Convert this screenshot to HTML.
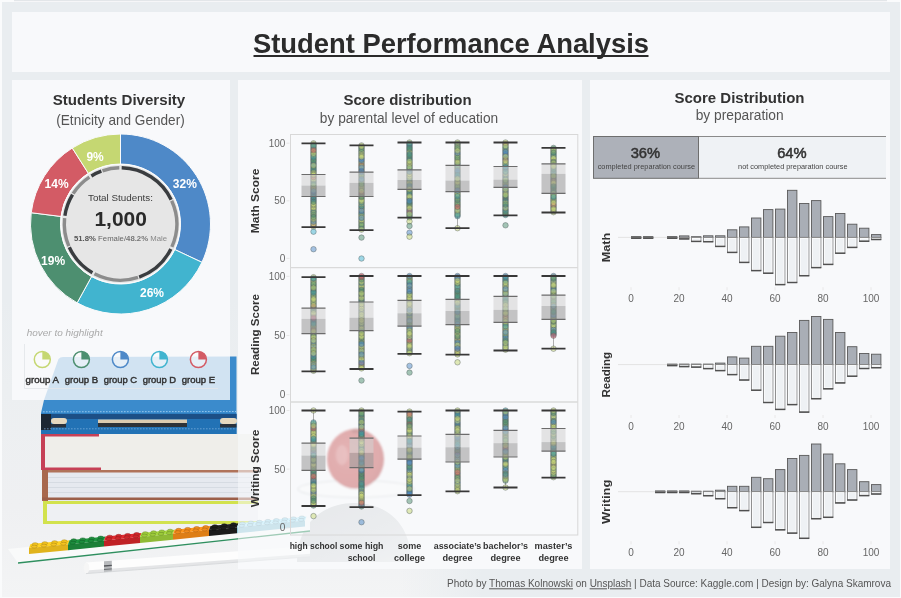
<!DOCTYPE html><html><head><meta charset="utf-8"><title>Student Performance Analysis</title><style>html,body{margin:0;padding:0;background:#fafbfc;}body{width:901px;height:598px;overflow:hidden;}</style></head><body><svg width="901" height="598" viewBox="0 0 901 598" style="display:block;will-change:transform" font-family='"Liberation Sans", Arial, sans-serif'><defs><filter id="soft" x="-5%" y="-5%" width="110%" height="110%"><feGaussianBlur stdDeviation="0.5"/></filter><filter id="soft2" x="-20%" y="-20%" width="140%" height="140%"><feGaussianBlur stdDeviation="0.9"/></filter><linearGradient id="photobg" x1="0" y1="0" x2="0" y2="1"><stop offset="0" stop-color="#e9edf0"/><stop offset="0.3" stop-color="#eceff1"/><stop offset="0.7" stop-color="#eff0f2"/><stop offset="1" stop-color="#f3f4f5"/></linearGradient><linearGradient id="photofade" x1="0" y1="0" x2="1" y2="0"><stop offset="0" stop-color="#e9edf0" stop-opacity="0"/><stop offset="1" stop-color="#e9edf0" stop-opacity="1"/></linearGradient><radialGradient id="apple" cx="0.38" cy="0.42" r="0.75"><stop offset="0" stop-color="#cc5a5a"/><stop offset="0.7" stop-color="#c04848"/><stop offset="1" stop-color="#a83a3c"/></radialGradient><linearGradient id="dome" x1="0" y1="0" x2="1" y2="1"><stop offset="0" stop-color="#d0d2d5"/><stop offset="0.6" stop-color="#dadcdf"/><stop offset="1" stop-color="#e8e9eb"/></linearGradient></defs><rect x="0" y="0" width="901" height="598" fill="#fafbfc"/><rect x="2" y="2" width="898" height="595" fill="#e9edf0"/><rect x="14" y="0" width="873" height="1.2" fill="#e3e6e9"/><g filter="url(#soft)"><rect x="2" y="300" width="480" height="297" fill="url(#photobg)"/><rect x="400" y="300" width="82" height="297" fill="url(#photofade)"/><rect x="12" y="80" width="218" height="320" fill="#f8f9fb"/><rect x="238" y="80" width="344" height="489" fill="#f8f9fb"/><g filter="url(#soft2)"><ellipse cx="356" cy="489" rx="58" ry="8.5" fill="#fbfbfb" stroke="#cfd1d4" stroke-width="1.2"/><ellipse cx="355.5" cy="459" rx="28.5" ry="30" fill="url(#apple)"/><ellipse cx="342" cy="455" rx="6" ry="10" fill="#dc8a8a" opacity="0.6"/><ellipse cx="356" cy="431" rx="5" ry="2.5" fill="#8a2a2a" opacity="0.6"/></g><path d="M297,562 C297,522 325,503 354,503 C385,503 411,522 411,562 Z" fill="url(#dome)"/><path d="M63,357 Q60,357.2 58.5,359 L44,400 L41,413 L41,434 L236.5,434 L236.5,356.5 Z" fill="#3a8bcc"/><path d="M43,411.8 L236,411.5" stroke="#a8d2f2" stroke-width="0.8" stroke-dasharray="1.6,1.4"/><rect x="41" y="413.5" width="195.5" height="20.5" fill="#2472b5"/><rect x="41" y="414" width="195.5" height="5" fill="#1b4f86"/><rect x="41" y="414" width="10" height="16" fill="#1e2733"/><rect x="51" y="418" width="16" height="6" rx="3" fill="#e6d8bf"/><rect x="51" y="424" width="15" height="3.5" fill="#2a323d"/><rect x="98" y="419.5" width="89" height="3.5" fill="#dccbb0"/><rect x="98" y="423" width="89" height="4" fill="#2e3138"/><rect x="220" y="418" width="17" height="6" rx="3" fill="#e6d8bf"/><rect x="220" y="424" width="16.5" height="3.5" fill="#2a323d"/><path d="M44,428.8 L236,428.8" stroke="#7fb2e0" stroke-width="0.7" stroke-dasharray="1.6,1.4"/><rect x="41" y="434" width="217" height="36" fill="#efeeea"/><rect x="41" y="434" width="58" height="2.5" fill="#c64056"/><rect x="41" y="434" width="4" height="36" fill="#c64056"/><rect x="41" y="467.5" width="60" height="2.5" fill="#c64056"/><rect x="42" y="470" width="216" height="31" fill="#e6e9ef"/><rect x="42" y="470" width="216" height="2.5" fill="#b0735a"/><rect x="42" y="470" width="6" height="31" fill="#a8674d"/><rect x="42" y="497.5" width="216" height="2.5" fill="#9c5f48"/><rect x="48" y="508" width="210" height="0.7" fill="#dfe2e6"/><rect x="48" y="513" width="210" height="0.7" fill="#dfe2e6"/><rect x="48" y="517" width="210" height="0.7" fill="#dfe2e6"/><rect x="48" y="477" width="210" height="0.8" fill="#d3d7df"/><rect x="48" y="482" width="210" height="0.8" fill="#d3d7df"/><rect x="48" y="487" width="210" height="0.8" fill="#d3d7df"/><rect x="48" y="492" width="210" height="0.8" fill="#d3d7df"/><rect x="43" y="501" width="215" height="23" fill="#eef0f3"/><rect x="43" y="501" width="215" height="3" fill="#d2e24e"/><rect x="43" y="501" width="4" height="23" fill="#d2e24e"/><rect x="43" y="521" width="215" height="3" fill="#d2e24e"/><path d="M8,549 L310,518 L310,531 L18,563 Z" fill="#f9fafa"/><path d="M18,563 L310,531" stroke="#2f8f5f" stroke-width="1.3"/><path d="M30.5,544.1 L69.5,540.2 L68,544.2 L29,548.1 Z" fill="#ffd222"/><path d="M29,548.1 L68,544.2 L68,550.2 L29,554.1 Z" fill="#e0b31d"/><ellipse cx="35.1" cy="544.2" rx="2.9" ry="1.5" fill="#f4c320" stroke="#aa8816" stroke-width="0.5"/><ellipse cx="44.8" cy="543.2" rx="2.9" ry="1.5" fill="#f4c320" stroke="#aa8816" stroke-width="0.5"/><ellipse cx="54.6" cy="542.2" rx="2.9" ry="1.5" fill="#f4c320" stroke="#aa8816" stroke-width="0.5"/><ellipse cx="64.3" cy="541.3" rx="2.9" ry="1.5" fill="#f4c320" stroke="#aa8816" stroke-width="0.5"/><ellipse cx="34.2" cy="546.6" rx="2.9" ry="1.5" fill="#f4c320" stroke="#aa8816" stroke-width="0.5"/><ellipse cx="43.9" cy="545.6" rx="2.9" ry="1.5" fill="#f4c320" stroke="#aa8816" stroke-width="0.5"/><ellipse cx="53.7" cy="544.6" rx="2.9" ry="1.5" fill="#f4c320" stroke="#aa8816" stroke-width="0.5"/><ellipse cx="63.4" cy="543.7" rx="2.9" ry="1.5" fill="#f4c320" stroke="#aa8816" stroke-width="0.5"/><path d="M69.5,540.2 L105.5,536.6 L104,540.6 L68,544.2 Z" fill="#1f9740"/><path d="M68,544.2 L104,540.6 L104,546.6 L68,550.2 Z" fill="#1a8037"/><ellipse cx="73.7" cy="540.3" rx="2.9" ry="1.5" fill="#1d8c3c" stroke="#14622a" stroke-width="0.5"/><ellipse cx="82.7" cy="539.4" rx="2.9" ry="1.5" fill="#1d8c3c" stroke="#14622a" stroke-width="0.5"/><ellipse cx="91.7" cy="538.5" rx="2.9" ry="1.5" fill="#1d8c3c" stroke="#14622a" stroke-width="0.5"/><ellipse cx="100.7" cy="537.6" rx="2.9" ry="1.5" fill="#1d8c3c" stroke="#14622a" stroke-width="0.5"/><ellipse cx="72.8" cy="542.7" rx="2.9" ry="1.5" fill="#1d8c3c" stroke="#14622a" stroke-width="0.5"/><ellipse cx="81.8" cy="541.8" rx="2.9" ry="1.5" fill="#1d8c3c" stroke="#14622a" stroke-width="0.5"/><ellipse cx="90.8" cy="540.9" rx="2.9" ry="1.5" fill="#1d8c3c" stroke="#14622a" stroke-width="0.5"/><ellipse cx="99.8" cy="540.0" rx="2.9" ry="1.5" fill="#1d8c3c" stroke="#14622a" stroke-width="0.5"/><path d="M105.5,536.6 L141.5,533.0 L140,537.0 L104,540.6 Z" fill="#e12b2f"/><path d="M104,540.6 L140,537.0 L140,543.0 L104,546.6 Z" fill="#c02428"/><ellipse cx="109.7" cy="536.7" rx="2.9" ry="1.5" fill="#d1282c" stroke="#921c1e" stroke-width="0.5"/><ellipse cx="118.7" cy="535.8" rx="2.9" ry="1.5" fill="#d1282c" stroke="#921c1e" stroke-width="0.5"/><ellipse cx="127.7" cy="534.9" rx="2.9" ry="1.5" fill="#d1282c" stroke="#921c1e" stroke-width="0.5"/><ellipse cx="136.7" cy="534.0" rx="2.9" ry="1.5" fill="#d1282c" stroke="#921c1e" stroke-width="0.5"/><ellipse cx="108.8" cy="539.1" rx="2.9" ry="1.5" fill="#d1282c" stroke="#921c1e" stroke-width="0.5"/><ellipse cx="117.8" cy="538.2" rx="2.9" ry="1.5" fill="#d1282c" stroke="#921c1e" stroke-width="0.5"/><ellipse cx="126.8" cy="537.3" rx="2.9" ry="1.5" fill="#d1282c" stroke="#921c1e" stroke-width="0.5"/><ellipse cx="135.8" cy="536.4" rx="2.9" ry="1.5" fill="#d1282c" stroke="#921c1e" stroke-width="0.5"/><path d="M141.5,533.0 L174.5,529.7 L173,533.7 L140,537.0 Z" fill="#a8db3e"/><path d="M140,537.0 L173,533.7 L173,539.7 L140,543.0 Z" fill="#8fba35"/><ellipse cx="145.3" cy="533.2" rx="2.9" ry="1.5" fill="#9ccb3a" stroke="#6d8e28" stroke-width="0.5"/><ellipse cx="153.6" cy="532.3" rx="2.9" ry="1.5" fill="#9ccb3a" stroke="#6d8e28" stroke-width="0.5"/><ellipse cx="161.8" cy="531.5" rx="2.9" ry="1.5" fill="#9ccb3a" stroke="#6d8e28" stroke-width="0.5"/><ellipse cx="170.1" cy="530.7" rx="2.9" ry="1.5" fill="#9ccb3a" stroke="#6d8e28" stroke-width="0.5"/><ellipse cx="144.4" cy="535.6" rx="2.9" ry="1.5" fill="#9ccb3a" stroke="#6d8e28" stroke-width="0.5"/><ellipse cx="152.7" cy="534.7" rx="2.9" ry="1.5" fill="#9ccb3a" stroke="#6d8e28" stroke-width="0.5"/><ellipse cx="160.9" cy="533.9" rx="2.9" ry="1.5" fill="#9ccb3a" stroke="#6d8e28" stroke-width="0.5"/><ellipse cx="169.2" cy="533.1" rx="2.9" ry="1.5" fill="#9ccb3a" stroke="#6d8e28" stroke-width="0.5"/><path d="M174.5,529.7 L210.5,526.1 L209,530.1 L173,533.7 Z" fill="#ff951e"/><path d="M173,533.7 L209,530.1 L209,536.1 L173,539.7 Z" fill="#de7e19"/><ellipse cx="178.7" cy="529.8" rx="2.9" ry="1.5" fill="#f28a1c" stroke="#a96013" stroke-width="0.5"/><ellipse cx="187.7" cy="528.9" rx="2.9" ry="1.5" fill="#f28a1c" stroke="#a96013" stroke-width="0.5"/><ellipse cx="196.7" cy="528.0" rx="2.9" ry="1.5" fill="#f28a1c" stroke="#a96013" stroke-width="0.5"/><ellipse cx="205.7" cy="527.1" rx="2.9" ry="1.5" fill="#f28a1c" stroke="#a96013" stroke-width="0.5"/><ellipse cx="177.8" cy="532.2" rx="2.9" ry="1.5" fill="#f28a1c" stroke="#a96013" stroke-width="0.5"/><ellipse cx="186.8" cy="531.3" rx="2.9" ry="1.5" fill="#f28a1c" stroke="#a96013" stroke-width="0.5"/><ellipse cx="195.8" cy="530.4" rx="2.9" ry="1.5" fill="#f28a1c" stroke="#a96013" stroke-width="0.5"/><ellipse cx="204.8" cy="529.5" rx="2.9" ry="1.5" fill="#f28a1c" stroke="#a96013" stroke-width="0.5"/><path d="M210.5,526.1 L238.5,523.3 L237,527.3 L209,530.1 Z" fill="#202020"/><path d="M209,530.1 L237,527.3 L237,533.3 L209,536.1 Z" fill="#1b1b1b"/><ellipse cx="214.9" cy="526.2" rx="2.9" ry="1.5" fill="#1e1e1e" stroke="#151515" stroke-width="0.5"/><ellipse cx="224.2" cy="525.3" rx="2.9" ry="1.5" fill="#1e1e1e" stroke="#151515" stroke-width="0.5"/><ellipse cx="233.5" cy="524.3" rx="2.9" ry="1.5" fill="#1e1e1e" stroke="#151515" stroke-width="0.5"/><ellipse cx="214.0" cy="528.6" rx="2.9" ry="1.5" fill="#1e1e1e" stroke="#151515" stroke-width="0.5"/><ellipse cx="223.3" cy="527.7" rx="2.9" ry="1.5" fill="#1e1e1e" stroke="#151515" stroke-width="0.5"/><ellipse cx="232.6" cy="526.7" rx="2.9" ry="1.5" fill="#1e1e1e" stroke="#151515" stroke-width="0.5"/><path d="M238.5,523.3 L306.5,516.5 L305,520.5 L237,527.3 Z" fill="#b3edff"/><path d="M237,527.3 L305,520.5 L305,526.5 L237,533.3 Z" fill="#98cadb"/><ellipse cx="242.4" cy="523.5" rx="2.9" ry="1.5" fill="#a6dcef" stroke="#749aa7" stroke-width="0.5"/><ellipse cx="250.9" cy="522.6" rx="2.9" ry="1.5" fill="#a6dcef" stroke="#749aa7" stroke-width="0.5"/><ellipse cx="259.4" cy="521.8" rx="2.9" ry="1.5" fill="#a6dcef" stroke="#749aa7" stroke-width="0.5"/><ellipse cx="267.9" cy="520.9" rx="2.9" ry="1.5" fill="#a6dcef" stroke="#749aa7" stroke-width="0.5"/><ellipse cx="276.4" cy="520.1" rx="2.9" ry="1.5" fill="#a6dcef" stroke="#749aa7" stroke-width="0.5"/><ellipse cx="284.9" cy="519.2" rx="2.9" ry="1.5" fill="#a6dcef" stroke="#749aa7" stroke-width="0.5"/><ellipse cx="293.4" cy="518.4" rx="2.9" ry="1.5" fill="#a6dcef" stroke="#749aa7" stroke-width="0.5"/><ellipse cx="301.9" cy="517.5" rx="2.9" ry="1.5" fill="#a6dcef" stroke="#749aa7" stroke-width="0.5"/><ellipse cx="241.6" cy="525.8" rx="2.9" ry="1.5" fill="#a6dcef" stroke="#749aa7" stroke-width="0.5"/><ellipse cx="250.1" cy="525.0" rx="2.9" ry="1.5" fill="#a6dcef" stroke="#749aa7" stroke-width="0.5"/><ellipse cx="258.6" cy="524.1" rx="2.9" ry="1.5" fill="#a6dcef" stroke="#749aa7" stroke-width="0.5"/><ellipse cx="267.1" cy="523.3" rx="2.9" ry="1.5" fill="#a6dcef" stroke="#749aa7" stroke-width="0.5"/><ellipse cx="275.6" cy="522.4" rx="2.9" ry="1.5" fill="#a6dcef" stroke="#749aa7" stroke-width="0.5"/><ellipse cx="284.1" cy="521.6" rx="2.9" ry="1.5" fill="#a6dcef" stroke="#749aa7" stroke-width="0.5"/><ellipse cx="292.6" cy="520.7" rx="2.9" ry="1.5" fill="#a6dcef" stroke="#749aa7" stroke-width="0.5"/><ellipse cx="301.1" cy="519.9" rx="2.9" ry="1.5" fill="#a6dcef" stroke="#749aa7" stroke-width="0.5"/><path d="M86,562.6 L310,546 L310,556.5 L86,573.4 Z" fill="#fdfdfd"/><path d="M86,570.5 L310,553.8 L310,556.5 L86,573.4 Z" fill="#e4e5e7"/><ellipse cx="86.5" cy="568" rx="2.8" ry="5.4" fill="#f6f6f6"/><path d="M104,561.3 L111.8,560.7 L111.8,571.6 L104,572.2 Z" fill="#b8babd"/><path d="M104,566 L111.8,565.4" stroke="#55575b" stroke-width="1.4"/><path d="M104,569.5 L111.8,568.9" stroke="#6a6c70" stroke-width="1"/><path d="M86,573.6 L310,556.7" stroke="#d2d4d7" stroke-width="0.8"/></g><rect x="12" y="12" width="878" height="60" fill="#f8f9fb"/><rect x="12" y="80" width="218" height="320" fill="#f8f9fb" fill-opacity="0.8"/><rect x="238" y="80" width="344" height="489" fill="#f8f9fb" fill-opacity="0.56"/><rect x="590" y="80" width="300" height="489" fill="#f8f9fb"/><text x="451" y="53.3" font-size="28" font-weight="bold" fill="#2b2b2b" text-anchor="middle" textLength="396" lengthAdjust="spacingAndGlyphs">Student Performance Analysis</text><rect x="253.5" y="55" width="395" height="2" fill="#2b2b2b"/><text x="119" y="105" font-size="15.5" font-weight="bold" fill="#333" text-anchor="middle" textLength="132.5" lengthAdjust="spacingAndGlyphs">Students Diversity</text><text x="120.5" y="124.5" font-size="14.5" fill="#555" text-anchor="middle" textLength="128.5" lengthAdjust="spacingAndGlyphs">(Etnicity and Gender)</text><path d="M120.50,134.00 A90.0,90.0 0 0 1 201.93,262.32 L174.79,249.55 A60.0,60.0 0 0 0 120.50,164.00 Z" fill="#4e89c8" stroke="#fafbfc" stroke-width="1"/><path d="M201.93,262.32 A90.0,90.0 0 0 1 77.14,302.87 L91.59,276.58 A60.0,60.0 0 0 0 174.79,249.55 Z" fill="#41b4cf" stroke="#fafbfc" stroke-width="1"/><path d="M77.14,302.87 A90.0,90.0 0 0 1 31.21,212.72 L60.97,216.48 A60.0,60.0 0 0 0 91.59,276.58 Z" fill="#4d8f70" stroke="#fafbfc" stroke-width="1"/><path d="M31.21,212.72 A90.0,90.0 0 0 1 72.28,148.01 L88.35,173.34 A60.0,60.0 0 0 0 60.97,216.48 Z" fill="#d35b65" stroke="#fafbfc" stroke-width="1"/><path d="M72.28,148.01 A90.0,90.0 0 0 1 120.50,134.00 L120.50,164.00 A60.0,60.0 0 0 0 88.35,173.34 Z" fill="#c5d772" stroke="#fafbfc" stroke-width="1"/><circle cx="120.5" cy="224.0" r="59.5" fill="#e6e6e6" stroke="#fafbfc" stroke-width="1.2"/><path d="M121.68,167.81 A56.2,56.2 0 0 1 171.17,199.69" fill="none" stroke="#3a3d40" stroke-width="3.4"/><path d="M171.67,200.76 A56.2,56.2 0 0 1 171.84,246.86" fill="none" stroke="#8c8c8c" stroke-width="3.4"/><path d="M170.84,248.99 A56.2,56.2 0 0 1 139.12,277.03" fill="none" stroke="#3a3d40" stroke-width="3.4"/><path d="M138.01,277.40 A56.2,56.2 0 0 1 94.46,273.80" fill="none" stroke="#8c8c8c" stroke-width="3.4"/><path d="M92.40,272.67 A56.2,56.2 0 0 1 69.31,247.20" fill="none" stroke="#3a3d40" stroke-width="3.4"/><path d="M68.84,246.13 A56.2,56.2 0 0 1 64.61,218.13" fill="none" stroke="#8c8c8c" stroke-width="3.4"/><path d="M64.90,215.79 A56.2,56.2 0 0 1 72.55,194.68" fill="none" stroke="#3a3d40" stroke-width="3.4"/><path d="M73.18,193.68 A56.2,56.2 0 0 1 89.40,177.19" fill="none" stroke="#8c8c8c" stroke-width="3.4"/><path d="M91.39,175.93 A56.2,56.2 0 0 1 101.36,171.16" fill="none" stroke="#3a3d40" stroke-width="3.4"/><path d="M102.47,170.77 A56.2,56.2 0 0 1 119.32,167.81" fill="none" stroke="#8c8c8c" stroke-width="3.4"/><text x="184.8" y="187.6" font-size="12" font-weight="bold" fill="#fff" text-anchor="middle">32%</text><text x="152" y="296.7" font-size="12" font-weight="bold" fill="#fff" text-anchor="middle">26%</text><text x="53.1" y="265" font-size="12" font-weight="bold" fill="#fff" text-anchor="middle">19%</text><text x="56.6" y="187.6" font-size="12" font-weight="bold" fill="#fff" text-anchor="middle">14%</text><text x="95.1" y="161.3" font-size="12" font-weight="bold" fill="#fff" text-anchor="middle">9%</text><text x="120.5" y="200.6" font-size="9.6" fill="#3c3c3c" text-anchor="middle" textLength="65" lengthAdjust="spacingAndGlyphs">Total Students:</text><text x="120.7" y="226.1" font-size="19.8" font-weight="bold" fill="#2a2a2a" text-anchor="middle" textLength="52.5" lengthAdjust="spacingAndGlyphs">1,000</text><text x="120.5" y="241.1" font-size="8" fill="#666" text-anchor="middle" textLength="93" lengthAdjust="spacingAndGlyphs"><tspan font-weight="bold" fill="#555">51.8%</tspan> Female/<tspan font-weight="bold" fill="#777">48.2%</tspan><tspan fill="#888"> Male</tspan></text><text x="26.7" y="335.9" font-size="9.6" fill="#aaa" textLength="76" lengthAdjust="spacingAndGlyphs" font-style="italic">hover to highlight</text><path d="M24.5,344V388.5H218" fill="none" stroke="#e3e6ea" stroke-width="0.9"/><circle cx="42.3" cy="359.5" r="8" fill="#fbfbfc" fill-opacity="0.5" stroke="#c5d772" stroke-width="1.5"/><path d="M42.3,359.5 L42.3,351.5 A8,8 0 0 1 50.3,359.5 Z" fill="#c5d772"/><text x="42.3" y="383" font-size="9.8" fill="#333" text-anchor="middle" textLength="33.5" lengthAdjust="spacingAndGlyphs" stroke="#333" stroke-width="0.45">group A</text><circle cx="81.4" cy="359.5" r="8" fill="#fbfbfc" fill-opacity="0.5" stroke="#4d8f70" stroke-width="1.5"/><path d="M81.4,359.5 L81.4,351.5 A8,8 0 0 1 89.4,359.5 Z" fill="#4d8f70"/><text x="81.4" y="383" font-size="9.8" fill="#333" text-anchor="middle" textLength="33.5" lengthAdjust="spacingAndGlyphs" stroke="#333" stroke-width="0.45">group B</text><circle cx="120.4" cy="359.5" r="8" fill="#fbfbfc" fill-opacity="0.5" stroke="#4e89c8" stroke-width="1.5"/><path d="M120.4,359.5 L120.4,351.5 A8,8 0 0 1 128.4,359.5 Z" fill="#4e89c8"/><text x="120.4" y="383" font-size="9.8" fill="#333" text-anchor="middle" textLength="33.5" lengthAdjust="spacingAndGlyphs" stroke="#333" stroke-width="0.45">group C</text><circle cx="159.4" cy="359.5" r="8" fill="#fbfbfc" fill-opacity="0.5" stroke="#41b4cf" stroke-width="1.5"/><path d="M159.4,359.5 L159.4,351.5 A8,8 0 0 1 167.4,359.5 Z" fill="#41b4cf"/><text x="159.4" y="383" font-size="9.8" fill="#333" text-anchor="middle" textLength="33.5" lengthAdjust="spacingAndGlyphs" stroke="#333" stroke-width="0.45">group D</text><circle cx="198.4" cy="359.5" r="8" fill="#fbfbfc" fill-opacity="0.5" stroke="#d35b65" stroke-width="1.5"/><path d="M198.4,359.5 L198.4,351.5 A8,8 0 0 1 206.4,359.5 Z" fill="#d35b65"/><text x="198.4" y="383" font-size="9.8" fill="#333" text-anchor="middle" textLength="33.5" lengthAdjust="spacingAndGlyphs" stroke="#333" stroke-width="0.45">group E</text><text x="407.5" y="104.6" font-size="15.4" font-weight="bold" fill="#333" text-anchor="middle" textLength="128.2" lengthAdjust="spacingAndGlyphs">Score distribution</text><text x="409" y="122.8" font-size="13.8" fill="#555" text-anchor="middle" textLength="178.3" lengthAdjust="spacingAndGlyphs">by parental level of education</text><rect x="290.5" y="134.5" width="287.29999999999995" height="400.5" fill="none" stroke="#d8d8d8" stroke-width="1"/><line x1="290.5" y1="267.59999999999997" x2="577.8" y2="267.59999999999997" stroke="#dadada" stroke-width="1.4"/><line x1="290.5" y1="402.0" x2="577.8" y2="402.0" stroke="#dadada" stroke-width="1.4"/><text x="285.4" y="146.7" font-size="10" fill="#666" text-anchor="end" textLength="16.6" lengthAdjust="spacingAndGlyphs">100</text><line x1="286.5" y1="143.2" x2="289.5" y2="143.2" stroke="#e2e2e2" stroke-width="0.8"/><text x="285.4" y="204.29999999999998" font-size="10" fill="#666" text-anchor="end" textLength="11.1" lengthAdjust="spacingAndGlyphs">50</text><line x1="286.5" y1="200.79999999999998" x2="289.5" y2="200.79999999999998" stroke="#e2e2e2" stroke-width="0.8"/><text x="285.4" y="261.9" font-size="10" fill="#666" text-anchor="end" textLength="5.6" lengthAdjust="spacingAndGlyphs">0</text><line x1="286.5" y1="258.4" x2="289.5" y2="258.4" stroke="#e2e2e2" stroke-width="0.8"/><text transform="translate(259.2,200.9) rotate(-90)" font-size="10.6" font-weight="bold" fill="#333" text-anchor="middle" textLength="64.5" lengthAdjust="spacingAndGlyphs">Math Score</text><text x="285.4" y="279.9" font-size="10" fill="#666" text-anchor="end" textLength="16.6" lengthAdjust="spacingAndGlyphs">100</text><line x1="286.5" y1="276.4" x2="289.5" y2="276.4" stroke="#e2e2e2" stroke-width="0.8"/><text x="285.4" y="339.0" font-size="10" fill="#666" text-anchor="end" textLength="11.1" lengthAdjust="spacingAndGlyphs">50</text><line x1="286.5" y1="335.5" x2="289.5" y2="335.5" stroke="#e2e2e2" stroke-width="0.8"/><text x="285.4" y="398.1" font-size="10" fill="#666" text-anchor="end" textLength="5.6" lengthAdjust="spacingAndGlyphs">0</text><line x1="286.5" y1="394.6" x2="289.5" y2="394.6" stroke="#e2e2e2" stroke-width="0.8"/><text transform="translate(259.2,334.6) rotate(-90)" font-size="10.6" font-weight="bold" fill="#333" text-anchor="middle" textLength="81" lengthAdjust="spacingAndGlyphs">Reading Score</text><text x="285.4" y="414.0" font-size="10" fill="#666" text-anchor="end" textLength="16.6" lengthAdjust="spacingAndGlyphs">100</text><line x1="286.5" y1="410.5" x2="289.5" y2="410.5" stroke="#e2e2e2" stroke-width="0.8"/><text x="285.4" y="472.6" font-size="10" fill="#666" text-anchor="end" textLength="11.1" lengthAdjust="spacingAndGlyphs">50</text><line x1="286.5" y1="469.1" x2="289.5" y2="469.1" stroke="#e2e2e2" stroke-width="0.8"/><text x="285.4" y="531.2" font-size="10" fill="#666" text-anchor="end" textLength="5.6" lengthAdjust="spacingAndGlyphs">0</text><line x1="286.5" y1="527.7" x2="289.5" y2="527.7" stroke="#e2e2e2" stroke-width="0.8"/><text transform="translate(259.2,468.4) rotate(-90)" font-size="10.6" font-weight="bold" fill="#333" text-anchor="middle" textLength="77.5" lengthAdjust="spacingAndGlyphs">Writing Score</text><g stroke="#566061" stroke-opacity="0.55" stroke-width="0.8" fill-opacity="0.5"><line x1="313.5" y1="143.3" x2="313.5" y2="227.2" stroke="#999" stroke-opacity="1"/><circle cx="313.5" cy="206.5" r="2.75" fill="#cbd978"/><circle cx="313.5" cy="192.4" r="2.75" fill="#4e89c8"/><circle cx="313.5" cy="180.7" r="2.75" fill="#cbd978"/><circle cx="313.5" cy="220.5" r="2.75" fill="#cbd978"/><circle cx="313.5" cy="193.6" r="2.75" fill="#3a9aa6"/><circle cx="313.5" cy="170.2" r="2.75" fill="#4d8f70"/><circle cx="313.5" cy="143.3" r="2.75" fill="#cbd978"/><circle cx="313.5" cy="162.0" r="2.75" fill="#cbd978"/><circle cx="313.5" cy="167.9" r="2.75" fill="#cbd978"/><circle cx="313.5" cy="171.4" r="2.75" fill="#4d8f70"/><circle cx="313.5" cy="211.2" r="2.75" fill="#4d8f70"/><circle cx="313.5" cy="208.8" r="2.75" fill="#cbd978"/><circle cx="313.5" cy="198.3" r="2.75" fill="#4e89c8"/><circle cx="313.5" cy="183.1" r="2.75" fill="#cbd978"/><circle cx="313.5" cy="181.9" r="2.75" fill="#3a9aa6"/><circle cx="313.5" cy="155.0" r="2.75" fill="#3a9aa6"/><circle cx="313.5" cy="158.5" r="2.75" fill="#cbd978"/><circle cx="313.5" cy="210.0" r="2.75" fill="#cbd978"/><circle cx="313.5" cy="187.8" r="2.75" fill="#d35b65"/><circle cx="313.5" cy="144.5" r="2.75" fill="#cbd978"/><circle cx="313.5" cy="176.1" r="2.75" fill="#4e89c8"/><circle cx="313.5" cy="188.9" r="2.75" fill="#4d8f70"/><circle cx="313.5" cy="169.0" r="2.75" fill="#3a9aa6"/><circle cx="313.5" cy="163.2" r="2.75" fill="#4d8f70"/><circle cx="313.5" cy="178.4" r="2.75" fill="#cbd978"/><circle cx="313.5" cy="179.6" r="2.75" fill="#cbd978"/><circle cx="313.5" cy="222.9" r="2.75" fill="#cbd978"/><circle cx="313.5" cy="166.7" r="2.75" fill="#4d8f70"/><circle cx="313.5" cy="177.2" r="2.75" fill="#d35b65"/><circle cx="313.5" cy="194.8" r="2.75" fill="#4e89c8"/><circle cx="313.5" cy="226.4" r="2.75" fill="#cbd978"/><circle cx="313.5" cy="156.2" r="2.75" fill="#cbd978"/><circle cx="313.5" cy="225.2" r="2.75" fill="#d35b65"/><circle cx="313.5" cy="224.0" r="2.75" fill="#cbd978"/><circle cx="313.5" cy="221.7" r="2.75" fill="#4e89c8"/><circle cx="313.5" cy="212.3" r="2.75" fill="#3a9aa6"/><circle cx="313.5" cy="164.4" r="2.75" fill="#4e89c8"/><circle cx="313.5" cy="152.7" r="2.75" fill="#4d8f70"/><circle cx="313.5" cy="207.6" r="2.75" fill="#cbd978"/><circle cx="313.5" cy="215.8" r="2.75" fill="#d35b65"/><circle cx="313.5" cy="200.6" r="2.75" fill="#4d8f70"/><circle cx="313.5" cy="195.9" r="2.75" fill="#4e89c8"/><circle cx="313.5" cy="172.5" r="2.75" fill="#cbd978"/><circle cx="313.5" cy="219.3" r="2.75" fill="#cbd978"/><circle cx="313.5" cy="203.0" r="2.75" fill="#4d8f70"/><circle cx="313.5" cy="205.3" r="2.75" fill="#cbd978"/><circle cx="313.5" cy="186.6" r="2.75" fill="#cbd978"/><circle cx="313.5" cy="199.5" r="2.75" fill="#4e89c8"/><circle cx="313.5" cy="190.1" r="2.75" fill="#cbd978"/><circle cx="313.5" cy="159.7" r="2.75" fill="#4d8f70"/><circle cx="313.5" cy="218.2" r="2.75" fill="#cbd978"/><circle cx="313.5" cy="185.4" r="2.75" fill="#cbd978"/><circle cx="313.5" cy="204.1" r="2.75" fill="#cbd978"/><circle cx="313.5" cy="146.8" r="2.75" fill="#cbd978"/><circle cx="313.5" cy="213.5" r="2.75" fill="#cbd978"/><circle cx="313.5" cy="184.2" r="2.75" fill="#4d8f70"/><circle cx="313.5" cy="214.7" r="2.75" fill="#4d8f70"/><circle cx="313.5" cy="160.8" r="2.75" fill="#4d8f70"/><circle cx="313.5" cy="148.0" r="2.75" fill="#cbd978"/><circle cx="313.5" cy="173.7" r="2.75" fill="#cbd978"/><circle cx="313.5" cy="217.0" r="2.75" fill="#4d8f70"/><circle cx="313.5" cy="149.1" r="2.75" fill="#4d8f70"/><circle cx="313.5" cy="145.6" r="2.75" fill="#3a9aa6"/><circle cx="313.5" cy="174.9" r="2.75" fill="#cbd978"/><circle cx="313.5" cy="151.5" r="2.75" fill="#cbd978"/><circle cx="313.5" cy="197.1" r="2.75" fill="#4d8f70"/><circle cx="313.5" cy="157.3" r="2.75" fill="#3a9aa6"/><circle cx="313.5" cy="153.8" r="2.75" fill="#cbd978"/><circle cx="313.5" cy="150.3" r="2.75" fill="#d35b65"/><circle cx="313.5" cy="201.8" r="2.75" fill="#4d8f70"/><circle cx="313.5" cy="165.5" r="2.75" fill="#cbd978"/><circle cx="313.5" cy="191.3" r="2.75" fill="#4e89c8"/><circle cx="313.5" cy="231.7" r="2.75" fill="#41b4cf"/><circle cx="313.5" cy="249.2" r="2.75" fill="#4e89c8"/><line x1="361.5" y1="145.4" x2="361.5" y2="230.1" stroke="#999" stroke-opacity="1"/><circle cx="361.5" cy="164.1" r="2.75" fill="#cbd978"/><circle cx="361.5" cy="161.8" r="2.75" fill="#cbd978"/><circle cx="361.5" cy="207.4" r="2.75" fill="#cbd978"/><circle cx="361.5" cy="162.9" r="2.75" fill="#cbd978"/><circle cx="361.5" cy="205.1" r="2.75" fill="#cbd978"/><circle cx="361.5" cy="208.6" r="2.75" fill="#4d8f70"/><circle cx="361.5" cy="212.1" r="2.75" fill="#d35b65"/><circle cx="361.5" cy="214.4" r="2.75" fill="#cbd978"/><circle cx="361.5" cy="153.6" r="2.75" fill="#3a9aa6"/><circle cx="361.5" cy="177.0" r="2.75" fill="#cbd978"/><circle cx="361.5" cy="215.6" r="2.75" fill="#cbd978"/><circle cx="361.5" cy="188.7" r="2.75" fill="#3a9aa6"/><circle cx="361.5" cy="227.3" r="2.75" fill="#cbd978"/><circle cx="361.5" cy="181.7" r="2.75" fill="#cbd978"/><circle cx="361.5" cy="170.0" r="2.75" fill="#d35b65"/><circle cx="361.5" cy="213.3" r="2.75" fill="#3a9aa6"/><circle cx="361.5" cy="189.9" r="2.75" fill="#cbd978"/><circle cx="361.5" cy="147.7" r="2.75" fill="#3a9aa6"/><circle cx="361.5" cy="173.5" r="2.75" fill="#cbd978"/><circle cx="361.5" cy="158.3" r="2.75" fill="#4e89c8"/><circle cx="361.5" cy="209.7" r="2.75" fill="#cbd978"/><circle cx="361.5" cy="165.3" r="2.75" fill="#d35b65"/><circle cx="361.5" cy="219.1" r="2.75" fill="#cbd978"/><circle cx="361.5" cy="221.4" r="2.75" fill="#3a9aa6"/><circle cx="361.5" cy="216.8" r="2.75" fill="#cbd978"/><circle cx="361.5" cy="198.0" r="2.75" fill="#cbd978"/><circle cx="361.5" cy="222.6" r="2.75" fill="#cbd978"/><circle cx="361.5" cy="226.1" r="2.75" fill="#cbd978"/><circle cx="361.5" cy="228.5" r="2.75" fill="#3a9aa6"/><circle cx="361.5" cy="206.2" r="2.75" fill="#3a9aa6"/><circle cx="361.5" cy="151.2" r="2.75" fill="#3a9aa6"/><circle cx="361.5" cy="178.2" r="2.75" fill="#cbd978"/><circle cx="361.5" cy="160.6" r="2.75" fill="#4e89c8"/><circle cx="361.5" cy="150.1" r="2.75" fill="#cbd978"/><circle cx="361.5" cy="159.4" r="2.75" fill="#4e89c8"/><circle cx="361.5" cy="199.2" r="2.75" fill="#cbd978"/><circle cx="361.5" cy="203.9" r="2.75" fill="#cbd978"/><circle cx="361.5" cy="180.5" r="2.75" fill="#4d8f70"/><circle cx="361.5" cy="152.4" r="2.75" fill="#cbd978"/><circle cx="361.5" cy="192.2" r="2.75" fill="#cbd978"/><circle cx="361.5" cy="202.7" r="2.75" fill="#3a9aa6"/><circle cx="361.5" cy="194.5" r="2.75" fill="#4d8f70"/><circle cx="361.5" cy="174.6" r="2.75" fill="#cbd978"/><circle cx="361.5" cy="186.3" r="2.75" fill="#cbd978"/><circle cx="361.5" cy="201.6" r="2.75" fill="#cbd978"/><circle cx="361.5" cy="223.8" r="2.75" fill="#cbd978"/><circle cx="361.5" cy="148.9" r="2.75" fill="#4d8f70"/><circle cx="361.5" cy="200.4" r="2.75" fill="#cbd978"/><circle cx="361.5" cy="195.7" r="2.75" fill="#cbd978"/><circle cx="361.5" cy="193.4" r="2.75" fill="#d35b65"/><circle cx="361.5" cy="210.9" r="2.75" fill="#4e89c8"/><circle cx="361.5" cy="182.8" r="2.75" fill="#cbd978"/><circle cx="361.5" cy="196.9" r="2.75" fill="#4d8f70"/><circle cx="361.5" cy="154.8" r="2.75" fill="#cbd978"/><circle cx="361.5" cy="168.8" r="2.75" fill="#cbd978"/><circle cx="361.5" cy="187.5" r="2.75" fill="#cbd978"/><circle cx="361.5" cy="191.0" r="2.75" fill="#cbd978"/><circle cx="361.5" cy="220.3" r="2.75" fill="#cbd978"/><circle cx="361.5" cy="185.2" r="2.75" fill="#cbd978"/><circle cx="361.5" cy="175.8" r="2.75" fill="#4d8f70"/><circle cx="361.5" cy="155.9" r="2.75" fill="#cbd978"/><circle cx="361.5" cy="145.4" r="2.75" fill="#cbd978"/><circle cx="361.5" cy="166.5" r="2.75" fill="#cbd978"/><circle cx="361.5" cy="184.0" r="2.75" fill="#4d8f70"/><circle cx="361.5" cy="172.3" r="2.75" fill="#4e89c8"/><circle cx="361.5" cy="217.9" r="2.75" fill="#4e89c8"/><circle cx="361.5" cy="146.6" r="2.75" fill="#cbd978"/><circle cx="361.5" cy="225.0" r="2.75" fill="#4d8f70"/><circle cx="361.5" cy="179.3" r="2.75" fill="#4e89c8"/><circle cx="361.5" cy="229.6" r="2.75" fill="#cbd978"/><circle cx="361.5" cy="171.1" r="2.75" fill="#4e89c8"/><circle cx="361.5" cy="157.1" r="2.75" fill="#cbd978"/><circle cx="361.5" cy="167.6" r="2.75" fill="#4e89c8"/><circle cx="361.5" cy="237.6" r="2.75" fill="#4d8f70"/><circle cx="361.5" cy="258.5" r="2.75" fill="#41b4cf"/><line x1="409.5" y1="142.5" x2="409.5" y2="217.6" stroke="#999" stroke-opacity="1"/><circle cx="409.5" cy="146.0" r="2.75" fill="#4d8f70"/><circle cx="409.5" cy="156.5" r="2.75" fill="#cbd978"/><circle cx="409.5" cy="158.9" r="2.75" fill="#4e89c8"/><circle cx="409.5" cy="162.4" r="2.75" fill="#cbd978"/><circle cx="409.5" cy="181.1" r="2.75" fill="#cbd978"/><circle cx="409.5" cy="175.3" r="2.75" fill="#cbd978"/><circle cx="409.5" cy="209.2" r="2.75" fill="#cbd978"/><circle cx="409.5" cy="184.6" r="2.75" fill="#4d8f70"/><circle cx="409.5" cy="165.9" r="2.75" fill="#4e89c8"/><circle cx="409.5" cy="164.7" r="2.75" fill="#cbd978"/><circle cx="409.5" cy="199.8" r="2.75" fill="#3a9aa6"/><circle cx="409.5" cy="216.2" r="2.75" fill="#cbd978"/><circle cx="409.5" cy="170.6" r="2.75" fill="#cbd978"/><circle cx="409.5" cy="144.8" r="2.75" fill="#4e89c8"/><circle cx="409.5" cy="160.0" r="2.75" fill="#3a9aa6"/><circle cx="409.5" cy="212.7" r="2.75" fill="#3a9aa6"/><circle cx="409.5" cy="190.5" r="2.75" fill="#3a9aa6"/><circle cx="409.5" cy="198.7" r="2.75" fill="#4d8f70"/><circle cx="409.5" cy="163.6" r="2.75" fill="#cbd978"/><circle cx="409.5" cy="150.7" r="2.75" fill="#3a9aa6"/><circle cx="409.5" cy="191.6" r="2.75" fill="#cbd978"/><circle cx="409.5" cy="183.4" r="2.75" fill="#cbd978"/><circle cx="409.5" cy="206.8" r="2.75" fill="#cbd978"/><circle cx="409.5" cy="182.3" r="2.75" fill="#cbd978"/><circle cx="409.5" cy="179.9" r="2.75" fill="#cbd978"/><circle cx="409.5" cy="172.9" r="2.75" fill="#cbd978"/><circle cx="409.5" cy="178.8" r="2.75" fill="#3a9aa6"/><circle cx="409.5" cy="157.7" r="2.75" fill="#4d8f70"/><circle cx="409.5" cy="147.2" r="2.75" fill="#3a9aa6"/><circle cx="409.5" cy="169.4" r="2.75" fill="#cbd978"/><circle cx="409.5" cy="161.2" r="2.75" fill="#cbd978"/><circle cx="409.5" cy="149.5" r="2.75" fill="#4d8f70"/><circle cx="409.5" cy="142.5" r="2.75" fill="#cbd978"/><circle cx="409.5" cy="194.0" r="2.75" fill="#4e89c8"/><circle cx="409.5" cy="195.1" r="2.75" fill="#3a9aa6"/><circle cx="409.5" cy="210.4" r="2.75" fill="#4e89c8"/><circle cx="409.5" cy="168.2" r="2.75" fill="#3a9aa6"/><circle cx="409.5" cy="177.6" r="2.75" fill="#cbd978"/><circle cx="409.5" cy="187.0" r="2.75" fill="#d35b65"/><circle cx="409.5" cy="188.1" r="2.75" fill="#cbd978"/><circle cx="409.5" cy="192.8" r="2.75" fill="#4d8f70"/><circle cx="409.5" cy="203.3" r="2.75" fill="#3a9aa6"/><circle cx="409.5" cy="185.8" r="2.75" fill="#3a9aa6"/><circle cx="409.5" cy="153.0" r="2.75" fill="#4d8f70"/><circle cx="409.5" cy="143.7" r="2.75" fill="#3a9aa6"/><circle cx="409.5" cy="151.9" r="2.75" fill="#cbd978"/><circle cx="409.5" cy="211.5" r="2.75" fill="#d35b65"/><circle cx="409.5" cy="154.2" r="2.75" fill="#3a9aa6"/><circle cx="409.5" cy="205.7" r="2.75" fill="#cbd978"/><circle cx="409.5" cy="215.0" r="2.75" fill="#3a9aa6"/><circle cx="409.5" cy="197.5" r="2.75" fill="#cbd978"/><circle cx="409.5" cy="204.5" r="2.75" fill="#4d8f70"/><circle cx="409.5" cy="176.4" r="2.75" fill="#cbd978"/><circle cx="409.5" cy="217.4" r="2.75" fill="#4d8f70"/><circle cx="409.5" cy="196.3" r="2.75" fill="#cbd978"/><circle cx="409.5" cy="202.2" r="2.75" fill="#4d8f70"/><circle cx="409.5" cy="148.3" r="2.75" fill="#4d8f70"/><circle cx="409.5" cy="167.1" r="2.75" fill="#cbd978"/><circle cx="409.5" cy="189.3" r="2.75" fill="#cbd978"/><circle cx="409.5" cy="201.0" r="2.75" fill="#4e89c8"/><circle cx="409.5" cy="174.1" r="2.75" fill="#cbd978"/><circle cx="409.5" cy="155.4" r="2.75" fill="#4d8f70"/><circle cx="409.5" cy="208.0" r="2.75" fill="#cbd978"/><circle cx="409.5" cy="213.9" r="2.75" fill="#cbd978"/><circle cx="409.5" cy="171.7" r="2.75" fill="#4e89c8"/><circle cx="409.5" cy="221.4" r="2.75" fill="#c5d772"/><circle cx="409.5" cy="226" r="2.75" fill="#4d8f70"/><circle cx="409.5" cy="232.7" r="2.75" fill="#4e89c8"/><circle cx="409.5" cy="236.7" r="2.75" fill="#c5d772"/><line x1="457.5" y1="142.5" x2="457.5" y2="228.2" stroke="#999" stroke-opacity="1"/><circle cx="457.5" cy="202.2" r="2.75" fill="#cbd978"/><circle cx="457.5" cy="201.0" r="2.75" fill="#4e89c8"/><circle cx="457.5" cy="208.0" r="2.75" fill="#cbd978"/><circle cx="457.5" cy="198.7" r="2.75" fill="#cbd978"/><circle cx="457.5" cy="158.9" r="2.75" fill="#cbd978"/><circle cx="457.5" cy="154.2" r="2.75" fill="#4e89c8"/><circle cx="457.5" cy="228.2" r="2.75" fill="#cbd978"/><circle cx="457.5" cy="205.7" r="2.75" fill="#cbd978"/><circle cx="457.5" cy="197.5" r="2.75" fill="#cbd978"/><circle cx="457.5" cy="203.3" r="2.75" fill="#cbd978"/><circle cx="457.5" cy="199.8" r="2.75" fill="#4d8f70"/><circle cx="457.5" cy="151.9" r="2.75" fill="#cbd978"/><circle cx="457.5" cy="161.2" r="2.75" fill="#cbd978"/><circle cx="457.5" cy="176.4" r="2.75" fill="#3a9aa6"/><circle cx="457.5" cy="179.9" r="2.75" fill="#4d8f70"/><circle cx="457.5" cy="192.8" r="2.75" fill="#cbd978"/><circle cx="457.5" cy="163.6" r="2.75" fill="#4e89c8"/><circle cx="457.5" cy="156.5" r="2.75" fill="#cbd978"/><circle cx="457.5" cy="146.0" r="2.75" fill="#cbd978"/><circle cx="457.5" cy="191.6" r="2.75" fill="#3a9aa6"/><circle cx="457.5" cy="189.3" r="2.75" fill="#d35b65"/><circle cx="457.5" cy="181.1" r="2.75" fill="#cbd978"/><circle cx="457.5" cy="188.1" r="2.75" fill="#cbd978"/><circle cx="457.5" cy="212.7" r="2.75" fill="#cbd978"/><circle cx="457.5" cy="183.4" r="2.75" fill="#cbd978"/><circle cx="457.5" cy="184.6" r="2.75" fill="#cbd978"/><circle cx="457.5" cy="149.5" r="2.75" fill="#cbd978"/><circle cx="457.5" cy="209.2" r="2.75" fill="#cbd978"/><circle cx="457.5" cy="144.8" r="2.75" fill="#cbd978"/><circle cx="457.5" cy="143.7" r="2.75" fill="#4e89c8"/><circle cx="457.5" cy="160.0" r="2.75" fill="#cbd978"/><circle cx="457.5" cy="216.2" r="2.75" fill="#3a9aa6"/><circle cx="457.5" cy="185.8" r="2.75" fill="#cbd978"/><circle cx="457.5" cy="169.4" r="2.75" fill="#cbd978"/><circle cx="457.5" cy="187.0" r="2.75" fill="#4d8f70"/><circle cx="457.5" cy="174.1" r="2.75" fill="#3a9aa6"/><circle cx="457.5" cy="211.5" r="2.75" fill="#4e89c8"/><circle cx="457.5" cy="182.3" r="2.75" fill="#cbd978"/><circle cx="457.5" cy="195.1" r="2.75" fill="#cbd978"/><circle cx="457.5" cy="142.5" r="2.75" fill="#cbd978"/><circle cx="457.5" cy="168.2" r="2.75" fill="#cbd978"/><circle cx="457.5" cy="147.2" r="2.75" fill="#cbd978"/><circle cx="457.5" cy="164.7" r="2.75" fill="#cbd978"/><circle cx="457.5" cy="167.1" r="2.75" fill="#cbd978"/><circle cx="457.5" cy="155.4" r="2.75" fill="#cbd978"/><circle cx="457.5" cy="171.7" r="2.75" fill="#3a9aa6"/><circle cx="457.5" cy="165.9" r="2.75" fill="#3a9aa6"/><circle cx="457.5" cy="213.9" r="2.75" fill="#cbd978"/><circle cx="457.5" cy="215.0" r="2.75" fill="#3a9aa6"/><circle cx="457.5" cy="172.9" r="2.75" fill="#4d8f70"/><circle cx="457.5" cy="194.0" r="2.75" fill="#cbd978"/><circle cx="457.5" cy="204.5" r="2.75" fill="#4d8f70"/><circle cx="457.5" cy="210.4" r="2.75" fill="#cbd978"/><circle cx="457.5" cy="190.5" r="2.75" fill="#4e89c8"/><circle cx="457.5" cy="153.0" r="2.75" fill="#4e89c8"/><circle cx="457.5" cy="177.6" r="2.75" fill="#4d8f70"/><circle cx="457.5" cy="170.6" r="2.75" fill="#4e89c8"/><circle cx="457.5" cy="148.3" r="2.75" fill="#4d8f70"/><circle cx="457.5" cy="196.3" r="2.75" fill="#3a9aa6"/><circle cx="457.5" cy="157.7" r="2.75" fill="#4d8f70"/><circle cx="457.5" cy="175.3" r="2.75" fill="#3a9aa6"/><circle cx="457.5" cy="150.7" r="2.75" fill="#cbd978"/><circle cx="457.5" cy="206.8" r="2.75" fill="#d35b65"/><circle cx="457.5" cy="178.8" r="2.75" fill="#cbd978"/><circle cx="457.5" cy="162.4" r="2.75" fill="#cbd978"/><line x1="505.5" y1="142.5" x2="505.5" y2="215.4" stroke="#999" stroke-opacity="1"/><circle cx="505.5" cy="184.6" r="2.75" fill="#4d8f70"/><circle cx="505.5" cy="185.8" r="2.75" fill="#cbd978"/><circle cx="505.5" cy="164.7" r="2.75" fill="#cbd978"/><circle cx="505.5" cy="177.6" r="2.75" fill="#cbd978"/><circle cx="505.5" cy="165.9" r="2.75" fill="#4e89c8"/><circle cx="505.5" cy="183.4" r="2.75" fill="#cbd978"/><circle cx="505.5" cy="157.7" r="2.75" fill="#cbd978"/><circle cx="505.5" cy="205.7" r="2.75" fill="#3a9aa6"/><circle cx="505.5" cy="215.0" r="2.75" fill="#3a9aa6"/><circle cx="505.5" cy="192.8" r="2.75" fill="#cbd978"/><circle cx="505.5" cy="209.2" r="2.75" fill="#4e89c8"/><circle cx="505.5" cy="175.3" r="2.75" fill="#d35b65"/><circle cx="505.5" cy="199.8" r="2.75" fill="#4e89c8"/><circle cx="505.5" cy="169.4" r="2.75" fill="#4d8f70"/><circle cx="505.5" cy="212.7" r="2.75" fill="#cbd978"/><circle cx="505.5" cy="213.9" r="2.75" fill="#4d8f70"/><circle cx="505.5" cy="190.5" r="2.75" fill="#cbd978"/><circle cx="505.5" cy="182.3" r="2.75" fill="#cbd978"/><circle cx="505.5" cy="191.6" r="2.75" fill="#4e89c8"/><circle cx="505.5" cy="210.4" r="2.75" fill="#4e89c8"/><circle cx="505.5" cy="149.5" r="2.75" fill="#cbd978"/><circle cx="505.5" cy="153.0" r="2.75" fill="#cbd978"/><circle cx="505.5" cy="143.7" r="2.75" fill="#d35b65"/><circle cx="505.5" cy="150.7" r="2.75" fill="#3a9aa6"/><circle cx="505.5" cy="172.9" r="2.75" fill="#4e89c8"/><circle cx="505.5" cy="178.8" r="2.75" fill="#4d8f70"/><circle cx="505.5" cy="198.7" r="2.75" fill="#d35b65"/><circle cx="505.5" cy="181.1" r="2.75" fill="#3a9aa6"/><circle cx="505.5" cy="202.2" r="2.75" fill="#cbd978"/><circle cx="505.5" cy="201.0" r="2.75" fill="#3a9aa6"/><circle cx="505.5" cy="158.9" r="2.75" fill="#3a9aa6"/><circle cx="505.5" cy="162.4" r="2.75" fill="#3a9aa6"/><circle cx="505.5" cy="194.0" r="2.75" fill="#cbd978"/><circle cx="505.5" cy="155.4" r="2.75" fill="#4e89c8"/><circle cx="505.5" cy="176.4" r="2.75" fill="#3a9aa6"/><circle cx="505.5" cy="144.8" r="2.75" fill="#d35b65"/><circle cx="505.5" cy="188.1" r="2.75" fill="#4e89c8"/><circle cx="505.5" cy="160.0" r="2.75" fill="#d35b65"/><circle cx="505.5" cy="187.0" r="2.75" fill="#4e89c8"/><circle cx="505.5" cy="163.6" r="2.75" fill="#cbd978"/><circle cx="505.5" cy="179.9" r="2.75" fill="#cbd978"/><circle cx="505.5" cy="170.6" r="2.75" fill="#cbd978"/><circle cx="505.5" cy="148.3" r="2.75" fill="#cbd978"/><circle cx="505.5" cy="203.3" r="2.75" fill="#cbd978"/><circle cx="505.5" cy="154.2" r="2.75" fill="#4e89c8"/><circle cx="505.5" cy="174.1" r="2.75" fill="#cbd978"/><circle cx="505.5" cy="161.2" r="2.75" fill="#cbd978"/><circle cx="505.5" cy="197.5" r="2.75" fill="#4d8f70"/><circle cx="505.5" cy="211.5" r="2.75" fill="#4d8f70"/><circle cx="505.5" cy="147.2" r="2.75" fill="#3a9aa6"/><circle cx="505.5" cy="142.5" r="2.75" fill="#cbd978"/><circle cx="505.5" cy="206.8" r="2.75" fill="#4e89c8"/><circle cx="505.5" cy="146.0" r="2.75" fill="#cbd978"/><circle cx="505.5" cy="168.2" r="2.75" fill="#4e89c8"/><circle cx="505.5" cy="171.7" r="2.75" fill="#3a9aa6"/><circle cx="505.5" cy="151.9" r="2.75" fill="#4e89c8"/><circle cx="505.5" cy="189.3" r="2.75" fill="#cbd978"/><circle cx="505.5" cy="196.3" r="2.75" fill="#4d8f70"/><circle cx="505.5" cy="195.1" r="2.75" fill="#cbd978"/><circle cx="505.5" cy="208.0" r="2.75" fill="#cbd978"/><circle cx="505.5" cy="204.5" r="2.75" fill="#4d8f70"/><circle cx="505.5" cy="156.5" r="2.75" fill="#cbd978"/><circle cx="505.5" cy="167.1" r="2.75" fill="#3a9aa6"/><circle cx="505.5" cy="225.3" r="2.75" fill="#4d8f70"/><line x1="553.5" y1="147.9" x2="553.5" y2="212.5" stroke="#999" stroke-opacity="1"/><circle cx="553.5" cy="188.8" r="2.75" fill="#cbd978"/><circle cx="553.5" cy="167.8" r="2.75" fill="#3a9aa6"/><circle cx="553.5" cy="200.5" r="2.75" fill="#4d8f70"/><circle cx="553.5" cy="153.7" r="2.75" fill="#cbd978"/><circle cx="553.5" cy="198.2" r="2.75" fill="#4d8f70"/><circle cx="553.5" cy="212.2" r="2.75" fill="#cbd978"/><circle cx="553.5" cy="190.0" r="2.75" fill="#cbd978"/><circle cx="553.5" cy="177.1" r="2.75" fill="#cbd978"/><circle cx="553.5" cy="185.3" r="2.75" fill="#3a9aa6"/><circle cx="553.5" cy="159.6" r="2.75" fill="#cbd978"/><circle cx="553.5" cy="199.4" r="2.75" fill="#cbd978"/><circle cx="553.5" cy="156.1" r="2.75" fill="#3a9aa6"/><circle cx="553.5" cy="194.7" r="2.75" fill="#cbd978"/><circle cx="553.5" cy="178.3" r="2.75" fill="#cbd978"/><circle cx="553.5" cy="160.8" r="2.75" fill="#cbd978"/><circle cx="553.5" cy="179.5" r="2.75" fill="#4e89c8"/><circle cx="553.5" cy="192.4" r="2.75" fill="#4e89c8"/><circle cx="553.5" cy="154.9" r="2.75" fill="#3a9aa6"/><circle cx="553.5" cy="151.4" r="2.75" fill="#cbd978"/><circle cx="553.5" cy="157.3" r="2.75" fill="#cbd978"/><circle cx="553.5" cy="180.7" r="2.75" fill="#d35b65"/><circle cx="553.5" cy="149.1" r="2.75" fill="#cbd978"/><circle cx="553.5" cy="201.7" r="2.75" fill="#cbd978"/><circle cx="553.5" cy="147.9" r="2.75" fill="#4d8f70"/><circle cx="553.5" cy="187.7" r="2.75" fill="#4d8f70"/><circle cx="553.5" cy="191.2" r="2.75" fill="#4d8f70"/><circle cx="553.5" cy="170.1" r="2.75" fill="#cbd978"/><circle cx="553.5" cy="211.1" r="2.75" fill="#cbd978"/><circle cx="553.5" cy="173.6" r="2.75" fill="#cbd978"/><circle cx="553.5" cy="174.8" r="2.75" fill="#4d8f70"/><circle cx="553.5" cy="171.3" r="2.75" fill="#4e89c8"/><circle cx="553.5" cy="207.6" r="2.75" fill="#4d8f70"/><circle cx="553.5" cy="172.5" r="2.75" fill="#4d8f70"/><circle cx="553.5" cy="158.4" r="2.75" fill="#cbd978"/><circle cx="553.5" cy="193.5" r="2.75" fill="#cbd978"/><circle cx="553.5" cy="161.9" r="2.75" fill="#4d8f70"/><circle cx="553.5" cy="150.2" r="2.75" fill="#cbd978"/><circle cx="553.5" cy="169.0" r="2.75" fill="#4d8f70"/><circle cx="553.5" cy="206.4" r="2.75" fill="#cbd978"/><circle cx="553.5" cy="204.1" r="2.75" fill="#cbd978"/><circle cx="553.5" cy="176.0" r="2.75" fill="#cbd978"/><circle cx="553.5" cy="184.2" r="2.75" fill="#cbd978"/><circle cx="553.5" cy="181.8" r="2.75" fill="#cbd978"/><circle cx="553.5" cy="195.9" r="2.75" fill="#cbd978"/><circle cx="553.5" cy="164.3" r="2.75" fill="#4d8f70"/><circle cx="553.5" cy="163.1" r="2.75" fill="#cbd978"/><circle cx="553.5" cy="165.4" r="2.75" fill="#cbd978"/><circle cx="553.5" cy="205.2" r="2.75" fill="#d35b65"/><circle cx="553.5" cy="209.9" r="2.75" fill="#cbd978"/><circle cx="553.5" cy="166.6" r="2.75" fill="#cbd978"/><circle cx="553.5" cy="183.0" r="2.75" fill="#cbd978"/><circle cx="553.5" cy="208.7" r="2.75" fill="#cbd978"/><circle cx="553.5" cy="202.9" r="2.75" fill="#cbd978"/><circle cx="553.5" cy="152.6" r="2.75" fill="#4d8f70"/><circle cx="553.5" cy="186.5" r="2.75" fill="#4d8f70"/><circle cx="553.5" cy="197.0" r="2.75" fill="#3a9aa6"/><line x1="313.5" y1="277.2" x2="313.5" y2="371.3" stroke="#999" stroke-opacity="1"/><circle cx="313.5" cy="281.9" r="2.75" fill="#cbd978"/><circle cx="313.5" cy="290.1" r="2.75" fill="#cbd978"/><circle cx="313.5" cy="321.7" r="2.75" fill="#cbd978"/><circle cx="313.5" cy="293.6" r="2.75" fill="#cbd978"/><circle cx="313.5" cy="308.8" r="2.75" fill="#3a9aa6"/><circle cx="313.5" cy="277.2" r="2.75" fill="#cbd978"/><circle cx="313.5" cy="348.6" r="2.75" fill="#cbd978"/><circle cx="313.5" cy="339.2" r="2.75" fill="#4d8f70"/><circle cx="313.5" cy="357.9" r="2.75" fill="#4d8f70"/><circle cx="313.5" cy="343.9" r="2.75" fill="#4d8f70"/><circle cx="313.5" cy="304.1" r="2.75" fill="#3a9aa6"/><circle cx="313.5" cy="315.8" r="2.75" fill="#cbd978"/><circle cx="313.5" cy="352.1" r="2.75" fill="#4d8f70"/><circle cx="313.5" cy="302.9" r="2.75" fill="#cbd978"/><circle cx="313.5" cy="334.5" r="2.75" fill="#cbd978"/><circle cx="313.5" cy="361.4" r="2.75" fill="#cbd978"/><circle cx="313.5" cy="326.3" r="2.75" fill="#4d8f70"/><circle cx="313.5" cy="362.6" r="2.75" fill="#cbd978"/><circle cx="313.5" cy="279.5" r="2.75" fill="#3a9aa6"/><circle cx="313.5" cy="355.6" r="2.75" fill="#cbd978"/><circle cx="313.5" cy="311.1" r="2.75" fill="#cbd978"/><circle cx="313.5" cy="347.4" r="2.75" fill="#4e89c8"/><circle cx="313.5" cy="328.7" r="2.75" fill="#3a9aa6"/><circle cx="313.5" cy="320.5" r="2.75" fill="#3a9aa6"/><circle cx="313.5" cy="345.1" r="2.75" fill="#4e89c8"/><circle cx="313.5" cy="297.1" r="2.75" fill="#cbd978"/><circle cx="313.5" cy="294.8" r="2.75" fill="#cbd978"/><circle cx="313.5" cy="370.8" r="2.75" fill="#cbd978"/><circle cx="313.5" cy="285.4" r="2.75" fill="#cbd978"/><circle cx="313.5" cy="300.6" r="2.75" fill="#4d8f70"/><circle cx="313.5" cy="291.2" r="2.75" fill="#4d8f70"/><circle cx="313.5" cy="314.6" r="2.75" fill="#4e89c8"/><circle cx="313.5" cy="295.9" r="2.75" fill="#4d8f70"/><circle cx="313.5" cy="360.3" r="2.75" fill="#4d8f70"/><circle cx="313.5" cy="327.5" r="2.75" fill="#cbd978"/><circle cx="313.5" cy="301.8" r="2.75" fill="#cbd978"/><circle cx="313.5" cy="346.2" r="2.75" fill="#cbd978"/><circle cx="313.5" cy="312.3" r="2.75" fill="#cbd978"/><circle cx="313.5" cy="288.9" r="2.75" fill="#4d8f70"/><circle cx="313.5" cy="329.9" r="2.75" fill="#d35b65"/><circle cx="313.5" cy="350.9" r="2.75" fill="#4d8f70"/><circle cx="313.5" cy="335.7" r="2.75" fill="#3a9aa6"/><circle cx="313.5" cy="359.1" r="2.75" fill="#4d8f70"/><circle cx="313.5" cy="298.3" r="2.75" fill="#cbd978"/><circle cx="313.5" cy="325.2" r="2.75" fill="#cbd978"/><circle cx="313.5" cy="286.6" r="2.75" fill="#4d8f70"/><circle cx="313.5" cy="322.8" r="2.75" fill="#3a9aa6"/><circle cx="313.5" cy="310.0" r="2.75" fill="#4d8f70"/><circle cx="313.5" cy="307.6" r="2.75" fill="#4d8f70"/><circle cx="313.5" cy="338.0" r="2.75" fill="#cbd978"/><circle cx="313.5" cy="280.7" r="2.75" fill="#cbd978"/><circle cx="313.5" cy="283.1" r="2.75" fill="#cbd978"/><circle cx="313.5" cy="369.6" r="2.75" fill="#cbd978"/><circle cx="313.5" cy="363.8" r="2.75" fill="#cbd978"/><circle cx="313.5" cy="356.8" r="2.75" fill="#3a9aa6"/><circle cx="313.5" cy="365.0" r="2.75" fill="#4e89c8"/><circle cx="313.5" cy="349.7" r="2.75" fill="#cbd978"/><circle cx="313.5" cy="306.5" r="2.75" fill="#d35b65"/><circle cx="313.5" cy="354.4" r="2.75" fill="#4e89c8"/><circle cx="313.5" cy="333.4" r="2.75" fill="#4d8f70"/><circle cx="313.5" cy="336.9" r="2.75" fill="#cbd978"/><circle cx="313.5" cy="278.4" r="2.75" fill="#3a9aa6"/><circle cx="313.5" cy="342.7" r="2.75" fill="#cbd978"/><circle cx="313.5" cy="368.5" r="2.75" fill="#cbd978"/><circle cx="313.5" cy="332.2" r="2.75" fill="#cbd978"/><circle cx="313.5" cy="305.3" r="2.75" fill="#cbd978"/><circle cx="313.5" cy="324.0" r="2.75" fill="#3a9aa6"/><circle cx="313.5" cy="353.3" r="2.75" fill="#cbd978"/><circle cx="313.5" cy="341.6" r="2.75" fill="#4e89c8"/><circle cx="313.5" cy="317.0" r="2.75" fill="#d35b65"/><circle cx="313.5" cy="313.5" r="2.75" fill="#cbd978"/><circle cx="313.5" cy="299.4" r="2.75" fill="#cbd978"/><circle cx="313.5" cy="319.3" r="2.75" fill="#4e89c8"/><circle cx="313.5" cy="366.1" r="2.75" fill="#cbd978"/><circle cx="313.5" cy="292.4" r="2.75" fill="#3a9aa6"/><circle cx="313.5" cy="367.3" r="2.75" fill="#4e89c8"/><circle cx="313.5" cy="284.2" r="2.75" fill="#4d8f70"/><circle cx="313.5" cy="318.2" r="2.75" fill="#d35b65"/><circle cx="313.5" cy="340.4" r="2.75" fill="#cbd978"/><circle cx="313.5" cy="331.0" r="2.75" fill="#cbd978"/><circle cx="313.5" cy="287.7" r="2.75" fill="#cbd978"/><line x1="361.5" y1="276.0" x2="361.5" y2="369.0" stroke="#999" stroke-opacity="1"/><circle cx="361.5" cy="295.9" r="2.75" fill="#cbd978"/><circle cx="361.5" cy="291.2" r="2.75" fill="#4d8f70"/><circle cx="361.5" cy="288.9" r="2.75" fill="#4d8f70"/><circle cx="361.5" cy="331.0" r="2.75" fill="#d35b65"/><circle cx="361.5" cy="339.2" r="2.75" fill="#cbd978"/><circle cx="361.5" cy="334.5" r="2.75" fill="#cbd978"/><circle cx="361.5" cy="321.6" r="2.75" fill="#cbd978"/><circle cx="361.5" cy="341.5" r="2.75" fill="#cbd978"/><circle cx="361.5" cy="348.5" r="2.75" fill="#cbd978"/><circle cx="361.5" cy="319.3" r="2.75" fill="#cbd978"/><circle cx="361.5" cy="353.2" r="2.75" fill="#cbd978"/><circle cx="361.5" cy="299.4" r="2.75" fill="#4e89c8"/><circle cx="361.5" cy="315.8" r="2.75" fill="#3a9aa6"/><circle cx="361.5" cy="287.7" r="2.75" fill="#4d8f70"/><circle cx="361.5" cy="318.1" r="2.75" fill="#cbd978"/><circle cx="361.5" cy="366.1" r="2.75" fill="#cbd978"/><circle cx="361.5" cy="301.7" r="2.75" fill="#4e89c8"/><circle cx="361.5" cy="332.2" r="2.75" fill="#4d8f70"/><circle cx="361.5" cy="309.9" r="2.75" fill="#cbd978"/><circle cx="361.5" cy="340.4" r="2.75" fill="#cbd978"/><circle cx="361.5" cy="327.5" r="2.75" fill="#4d8f70"/><circle cx="361.5" cy="285.4" r="2.75" fill="#cbd978"/><circle cx="361.5" cy="356.7" r="2.75" fill="#cbd978"/><circle cx="361.5" cy="357.9" r="2.75" fill="#cbd978"/><circle cx="361.5" cy="284.2" r="2.75" fill="#cbd978"/><circle cx="361.5" cy="361.4" r="2.75" fill="#cbd978"/><circle cx="361.5" cy="364.9" r="2.75" fill="#cbd978"/><circle cx="361.5" cy="286.5" r="2.75" fill="#cbd978"/><circle cx="361.5" cy="349.7" r="2.75" fill="#4d8f70"/><circle cx="361.5" cy="347.4" r="2.75" fill="#cbd978"/><circle cx="361.5" cy="283.0" r="2.75" fill="#3a9aa6"/><circle cx="361.5" cy="280.7" r="2.75" fill="#cbd978"/><circle cx="361.5" cy="313.4" r="2.75" fill="#4d8f70"/><circle cx="361.5" cy="297.1" r="2.75" fill="#cbd978"/><circle cx="361.5" cy="360.2" r="2.75" fill="#cbd978"/><circle cx="361.5" cy="338.0" r="2.75" fill="#4d8f70"/><circle cx="361.5" cy="305.3" r="2.75" fill="#cbd978"/><circle cx="361.5" cy="335.7" r="2.75" fill="#cbd978"/><circle cx="361.5" cy="363.8" r="2.75" fill="#d35b65"/><circle cx="361.5" cy="300.6" r="2.75" fill="#4d8f70"/><circle cx="361.5" cy="278.3" r="2.75" fill="#cbd978"/><circle cx="361.5" cy="336.8" r="2.75" fill="#cbd978"/><circle cx="361.5" cy="329.8" r="2.75" fill="#3a9aa6"/><circle cx="361.5" cy="302.9" r="2.75" fill="#4d8f70"/><circle cx="361.5" cy="307.6" r="2.75" fill="#cbd978"/><circle cx="361.5" cy="325.1" r="2.75" fill="#cbd978"/><circle cx="361.5" cy="292.4" r="2.75" fill="#cbd978"/><circle cx="361.5" cy="294.7" r="2.75" fill="#4d8f70"/><circle cx="361.5" cy="281.9" r="2.75" fill="#cbd978"/><circle cx="361.5" cy="345.0" r="2.75" fill="#4e89c8"/><circle cx="361.5" cy="342.7" r="2.75" fill="#4d8f70"/><circle cx="361.5" cy="326.3" r="2.75" fill="#cbd978"/><circle cx="361.5" cy="352.1" r="2.75" fill="#4e89c8"/><circle cx="361.5" cy="290.0" r="2.75" fill="#4d8f70"/><circle cx="361.5" cy="350.9" r="2.75" fill="#cbd978"/><circle cx="361.5" cy="279.5" r="2.75" fill="#4d8f70"/><circle cx="361.5" cy="298.2" r="2.75" fill="#cbd978"/><circle cx="361.5" cy="324.0" r="2.75" fill="#4d8f70"/><circle cx="361.5" cy="328.7" r="2.75" fill="#cbd978"/><circle cx="361.5" cy="306.4" r="2.75" fill="#cbd978"/><circle cx="361.5" cy="359.1" r="2.75" fill="#cbd978"/><circle cx="361.5" cy="293.6" r="2.75" fill="#cbd978"/><circle cx="361.5" cy="367.3" r="2.75" fill="#cbd978"/><circle cx="361.5" cy="311.1" r="2.75" fill="#4e89c8"/><circle cx="361.5" cy="346.2" r="2.75" fill="#cbd978"/><circle cx="361.5" cy="312.3" r="2.75" fill="#cbd978"/><circle cx="361.5" cy="322.8" r="2.75" fill="#cbd978"/><circle cx="361.5" cy="317.0" r="2.75" fill="#cbd978"/><circle cx="361.5" cy="343.9" r="2.75" fill="#4e89c8"/><circle cx="361.5" cy="368.4" r="2.75" fill="#cbd978"/><circle cx="361.5" cy="355.6" r="2.75" fill="#cbd978"/><circle cx="361.5" cy="277.2" r="2.75" fill="#d35b65"/><circle cx="361.5" cy="276.0" r="2.75" fill="#d35b65"/><circle cx="361.5" cy="308.8" r="2.75" fill="#cbd978"/><circle cx="361.5" cy="314.6" r="2.75" fill="#cbd978"/><circle cx="361.5" cy="333.3" r="2.75" fill="#cbd978"/><circle cx="361.5" cy="304.1" r="2.75" fill="#cbd978"/><circle cx="361.5" cy="362.6" r="2.75" fill="#4e89c8"/><circle cx="361.5" cy="354.4" r="2.75" fill="#4e89c8"/><circle cx="361.5" cy="320.5" r="2.75" fill="#cbd978"/><circle cx="361.5" cy="380.5" r="2.75" fill="#4d8f70"/><line x1="409.5" y1="276.0" x2="409.5" y2="353.9" stroke="#999" stroke-opacity="1"/><circle cx="409.5" cy="335.7" r="2.75" fill="#cbd978"/><circle cx="409.5" cy="342.7" r="2.75" fill="#cbd978"/><circle cx="409.5" cy="301.7" r="2.75" fill="#cbd978"/><circle cx="409.5" cy="322.8" r="2.75" fill="#cbd978"/><circle cx="409.5" cy="314.6" r="2.75" fill="#4d8f70"/><circle cx="409.5" cy="319.3" r="2.75" fill="#cbd978"/><circle cx="409.5" cy="341.5" r="2.75" fill="#cbd978"/><circle cx="409.5" cy="277.2" r="2.75" fill="#cbd978"/><circle cx="409.5" cy="308.8" r="2.75" fill="#cbd978"/><circle cx="409.5" cy="349.7" r="2.75" fill="#cbd978"/><circle cx="409.5" cy="284.2" r="2.75" fill="#cbd978"/><circle cx="409.5" cy="300.6" r="2.75" fill="#3a9aa6"/><circle cx="409.5" cy="343.9" r="2.75" fill="#cbd978"/><circle cx="409.5" cy="297.1" r="2.75" fill="#cbd978"/><circle cx="409.5" cy="326.3" r="2.75" fill="#cbd978"/><circle cx="409.5" cy="292.4" r="2.75" fill="#4d8f70"/><circle cx="409.5" cy="311.1" r="2.75" fill="#cbd978"/><circle cx="409.5" cy="318.1" r="2.75" fill="#cbd978"/><circle cx="409.5" cy="350.9" r="2.75" fill="#3a9aa6"/><circle cx="409.5" cy="283.0" r="2.75" fill="#3a9aa6"/><circle cx="409.5" cy="324.0" r="2.75" fill="#cbd978"/><circle cx="409.5" cy="348.5" r="2.75" fill="#4e89c8"/><circle cx="409.5" cy="339.2" r="2.75" fill="#cbd978"/><circle cx="409.5" cy="338.0" r="2.75" fill="#4e89c8"/><circle cx="409.5" cy="279.5" r="2.75" fill="#4d8f70"/><circle cx="409.5" cy="352.1" r="2.75" fill="#cbd978"/><circle cx="409.5" cy="321.6" r="2.75" fill="#cbd978"/><circle cx="409.5" cy="317.0" r="2.75" fill="#cbd978"/><circle cx="409.5" cy="325.1" r="2.75" fill="#4d8f70"/><circle cx="409.5" cy="295.9" r="2.75" fill="#cbd978"/><circle cx="409.5" cy="315.8" r="2.75" fill="#4d8f70"/><circle cx="409.5" cy="278.3" r="2.75" fill="#cbd978"/><circle cx="409.5" cy="280.7" r="2.75" fill="#cbd978"/><circle cx="409.5" cy="306.4" r="2.75" fill="#cbd978"/><circle cx="409.5" cy="328.7" r="2.75" fill="#cbd978"/><circle cx="409.5" cy="287.7" r="2.75" fill="#cbd978"/><circle cx="409.5" cy="305.3" r="2.75" fill="#cbd978"/><circle cx="409.5" cy="290.0" r="2.75" fill="#cbd978"/><circle cx="409.5" cy="313.4" r="2.75" fill="#4e89c8"/><circle cx="409.5" cy="281.9" r="2.75" fill="#3a9aa6"/><circle cx="409.5" cy="329.8" r="2.75" fill="#cbd978"/><circle cx="409.5" cy="302.9" r="2.75" fill="#cbd978"/><circle cx="409.5" cy="353.2" r="2.75" fill="#cbd978"/><circle cx="409.5" cy="332.2" r="2.75" fill="#3a9aa6"/><circle cx="409.5" cy="299.4" r="2.75" fill="#cbd978"/><circle cx="409.5" cy="293.6" r="2.75" fill="#4d8f70"/><circle cx="409.5" cy="320.5" r="2.75" fill="#4e89c8"/><circle cx="409.5" cy="286.5" r="2.75" fill="#cbd978"/><circle cx="409.5" cy="327.5" r="2.75" fill="#4e89c8"/><circle cx="409.5" cy="298.2" r="2.75" fill="#cbd978"/><circle cx="409.5" cy="331.0" r="2.75" fill="#cbd978"/><circle cx="409.5" cy="276.0" r="2.75" fill="#4e89c8"/><circle cx="409.5" cy="288.9" r="2.75" fill="#4e89c8"/><circle cx="409.5" cy="340.4" r="2.75" fill="#d35b65"/><circle cx="409.5" cy="285.4" r="2.75" fill="#4e89c8"/><circle cx="409.5" cy="312.3" r="2.75" fill="#cbd978"/><circle cx="409.5" cy="336.8" r="2.75" fill="#cbd978"/><circle cx="409.5" cy="307.6" r="2.75" fill="#cbd978"/><circle cx="409.5" cy="294.7" r="2.75" fill="#cbd978"/><circle cx="409.5" cy="334.5" r="2.75" fill="#cbd978"/><circle cx="409.5" cy="304.1" r="2.75" fill="#cbd978"/><circle cx="409.5" cy="333.3" r="2.75" fill="#cbd978"/><circle cx="409.5" cy="347.4" r="2.75" fill="#cbd978"/><circle cx="409.5" cy="345.0" r="2.75" fill="#cbd978"/><circle cx="409.5" cy="346.2" r="2.75" fill="#cbd978"/><circle cx="409.5" cy="291.2" r="2.75" fill="#4e89c8"/><circle cx="409.5" cy="309.9" r="2.75" fill="#4e89c8"/><circle cx="409.5" cy="365.9" r="2.75" fill="#4e89c8"/><circle cx="409.5" cy="372.6" r="2.75" fill="#4d8f70"/><line x1="457.5" y1="276.0" x2="457.5" y2="354.6" stroke="#999" stroke-opacity="1"/><circle cx="457.5" cy="292.4" r="2.75" fill="#3a9aa6"/><circle cx="457.5" cy="329.8" r="2.75" fill="#cbd978"/><circle cx="457.5" cy="327.5" r="2.75" fill="#cbd978"/><circle cx="457.5" cy="341.5" r="2.75" fill="#cbd978"/><circle cx="457.5" cy="294.7" r="2.75" fill="#cbd978"/><circle cx="457.5" cy="343.9" r="2.75" fill="#cbd978"/><circle cx="457.5" cy="340.4" r="2.75" fill="#3a9aa6"/><circle cx="457.5" cy="285.4" r="2.75" fill="#cbd978"/><circle cx="457.5" cy="313.4" r="2.75" fill="#cbd978"/><circle cx="457.5" cy="326.3" r="2.75" fill="#cbd978"/><circle cx="457.5" cy="293.6" r="2.75" fill="#4d8f70"/><circle cx="457.5" cy="284.2" r="2.75" fill="#4d8f70"/><circle cx="457.5" cy="349.7" r="2.75" fill="#cbd978"/><circle cx="457.5" cy="332.2" r="2.75" fill="#cbd978"/><circle cx="457.5" cy="300.6" r="2.75" fill="#cbd978"/><circle cx="457.5" cy="346.2" r="2.75" fill="#cbd978"/><circle cx="457.5" cy="318.1" r="2.75" fill="#4d8f70"/><circle cx="457.5" cy="333.3" r="2.75" fill="#cbd978"/><circle cx="457.5" cy="328.7" r="2.75" fill="#cbd978"/><circle cx="457.5" cy="347.4" r="2.75" fill="#4e89c8"/><circle cx="457.5" cy="276.0" r="2.75" fill="#4e89c8"/><circle cx="457.5" cy="308.8" r="2.75" fill="#4d8f70"/><circle cx="457.5" cy="309.9" r="2.75" fill="#cbd978"/><circle cx="457.5" cy="350.9" r="2.75" fill="#d35b65"/><circle cx="457.5" cy="290.0" r="2.75" fill="#4e89c8"/><circle cx="457.5" cy="338.0" r="2.75" fill="#d35b65"/><circle cx="457.5" cy="299.4" r="2.75" fill="#cbd978"/><circle cx="457.5" cy="288.9" r="2.75" fill="#4e89c8"/><circle cx="457.5" cy="353.2" r="2.75" fill="#cbd978"/><circle cx="457.5" cy="304.1" r="2.75" fill="#4e89c8"/><circle cx="457.5" cy="307.6" r="2.75" fill="#4d8f70"/><circle cx="457.5" cy="277.2" r="2.75" fill="#4e89c8"/><circle cx="457.5" cy="314.6" r="2.75" fill="#cbd978"/><circle cx="457.5" cy="319.3" r="2.75" fill="#4d8f70"/><circle cx="457.5" cy="301.7" r="2.75" fill="#cbd978"/><circle cx="457.5" cy="320.5" r="2.75" fill="#3a9aa6"/><circle cx="457.5" cy="279.5" r="2.75" fill="#cbd978"/><circle cx="457.5" cy="352.1" r="2.75" fill="#cbd978"/><circle cx="457.5" cy="298.2" r="2.75" fill="#4d8f70"/><circle cx="457.5" cy="297.1" r="2.75" fill="#3a9aa6"/><circle cx="457.5" cy="339.2" r="2.75" fill="#cbd978"/><circle cx="457.5" cy="295.9" r="2.75" fill="#4d8f70"/><circle cx="457.5" cy="335.7" r="2.75" fill="#cbd978"/><circle cx="457.5" cy="287.7" r="2.75" fill="#cbd978"/><circle cx="457.5" cy="354.4" r="2.75" fill="#cbd978"/><circle cx="457.5" cy="281.9" r="2.75" fill="#cbd978"/><circle cx="457.5" cy="315.8" r="2.75" fill="#cbd978"/><circle cx="457.5" cy="322.8" r="2.75" fill="#cbd978"/><circle cx="457.5" cy="286.5" r="2.75" fill="#3a9aa6"/><circle cx="457.5" cy="342.7" r="2.75" fill="#4e89c8"/><circle cx="457.5" cy="325.1" r="2.75" fill="#cbd978"/><circle cx="457.5" cy="305.3" r="2.75" fill="#4e89c8"/><circle cx="457.5" cy="345.0" r="2.75" fill="#cbd978"/><circle cx="457.5" cy="283.0" r="2.75" fill="#cbd978"/><circle cx="457.5" cy="306.4" r="2.75" fill="#4d8f70"/><circle cx="457.5" cy="348.5" r="2.75" fill="#4e89c8"/><circle cx="457.5" cy="311.1" r="2.75" fill="#4d8f70"/><circle cx="457.5" cy="317.0" r="2.75" fill="#3a9aa6"/><circle cx="457.5" cy="312.3" r="2.75" fill="#4e89c8"/><circle cx="457.5" cy="334.5" r="2.75" fill="#cbd978"/><circle cx="457.5" cy="278.3" r="2.75" fill="#4e89c8"/><circle cx="457.5" cy="291.2" r="2.75" fill="#4d8f70"/><circle cx="457.5" cy="280.7" r="2.75" fill="#cbd978"/><circle cx="457.5" cy="321.6" r="2.75" fill="#3a9aa6"/><circle cx="457.5" cy="302.9" r="2.75" fill="#cbd978"/><circle cx="457.5" cy="331.0" r="2.75" fill="#4d8f70"/><circle cx="457.5" cy="336.8" r="2.75" fill="#4d8f70"/><circle cx="457.5" cy="324.0" r="2.75" fill="#4e89c8"/><circle cx="457.5" cy="362.3" r="2.75" fill="#c5d772"/><line x1="505.5" y1="276.0" x2="505.5" y2="350.5" stroke="#999" stroke-opacity="1"/><circle cx="505.5" cy="325.1" r="2.75" fill="#4d8f70"/><circle cx="505.5" cy="295.9" r="2.75" fill="#cbd978"/><circle cx="505.5" cy="286.5" r="2.75" fill="#cbd978"/><circle cx="505.5" cy="284.2" r="2.75" fill="#3a9aa6"/><circle cx="505.5" cy="314.6" r="2.75" fill="#4d8f70"/><circle cx="505.5" cy="336.8" r="2.75" fill="#cbd978"/><circle cx="505.5" cy="292.4" r="2.75" fill="#3a9aa6"/><circle cx="505.5" cy="318.1" r="2.75" fill="#cbd978"/><circle cx="505.5" cy="306.4" r="2.75" fill="#4e89c8"/><circle cx="505.5" cy="297.1" r="2.75" fill="#3a9aa6"/><circle cx="505.5" cy="287.7" r="2.75" fill="#cbd978"/><circle cx="505.5" cy="298.2" r="2.75" fill="#cbd978"/><circle cx="505.5" cy="291.2" r="2.75" fill="#cbd978"/><circle cx="505.5" cy="334.5" r="2.75" fill="#cbd978"/><circle cx="505.5" cy="329.8" r="2.75" fill="#cbd978"/><circle cx="505.5" cy="339.2" r="2.75" fill="#cbd978"/><circle cx="505.5" cy="300.6" r="2.75" fill="#4d8f70"/><circle cx="505.5" cy="328.7" r="2.75" fill="#cbd978"/><circle cx="505.5" cy="279.5" r="2.75" fill="#4e89c8"/><circle cx="505.5" cy="324.0" r="2.75" fill="#cbd978"/><circle cx="505.5" cy="343.9" r="2.75" fill="#4e89c8"/><circle cx="505.5" cy="327.5" r="2.75" fill="#cbd978"/><circle cx="505.5" cy="341.5" r="2.75" fill="#4d8f70"/><circle cx="505.5" cy="290.0" r="2.75" fill="#cbd978"/><circle cx="505.5" cy="320.5" r="2.75" fill="#cbd978"/><circle cx="505.5" cy="331.0" r="2.75" fill="#cbd978"/><circle cx="505.5" cy="345.0" r="2.75" fill="#3a9aa6"/><circle cx="505.5" cy="315.8" r="2.75" fill="#cbd978"/><circle cx="505.5" cy="294.7" r="2.75" fill="#4e89c8"/><circle cx="505.5" cy="322.8" r="2.75" fill="#cbd978"/><circle cx="505.5" cy="304.1" r="2.75" fill="#4d8f70"/><circle cx="505.5" cy="299.4" r="2.75" fill="#3a9aa6"/><circle cx="505.5" cy="335.7" r="2.75" fill="#3a9aa6"/><circle cx="505.5" cy="326.3" r="2.75" fill="#3a9aa6"/><circle cx="505.5" cy="317.0" r="2.75" fill="#d35b65"/><circle cx="505.5" cy="278.3" r="2.75" fill="#cbd978"/><circle cx="505.5" cy="319.3" r="2.75" fill="#cbd978"/><circle cx="505.5" cy="348.5" r="2.75" fill="#3a9aa6"/><circle cx="505.5" cy="338.0" r="2.75" fill="#4e89c8"/><circle cx="505.5" cy="281.9" r="2.75" fill="#4d8f70"/><circle cx="505.5" cy="302.9" r="2.75" fill="#cbd978"/><circle cx="505.5" cy="307.6" r="2.75" fill="#cbd978"/><circle cx="505.5" cy="301.7" r="2.75" fill="#4d8f70"/><circle cx="505.5" cy="285.4" r="2.75" fill="#cbd978"/><circle cx="505.5" cy="280.7" r="2.75" fill="#3a9aa6"/><circle cx="505.5" cy="283.0" r="2.75" fill="#cbd978"/><circle cx="505.5" cy="305.3" r="2.75" fill="#cbd978"/><circle cx="505.5" cy="311.1" r="2.75" fill="#cbd978"/><circle cx="505.5" cy="346.2" r="2.75" fill="#cbd978"/><circle cx="505.5" cy="340.4" r="2.75" fill="#4d8f70"/><circle cx="505.5" cy="333.3" r="2.75" fill="#cbd978"/><circle cx="505.5" cy="349.7" r="2.75" fill="#cbd978"/><circle cx="505.5" cy="332.2" r="2.75" fill="#4e89c8"/><circle cx="505.5" cy="347.4" r="2.75" fill="#cbd978"/><circle cx="505.5" cy="293.6" r="2.75" fill="#cbd978"/><circle cx="505.5" cy="309.9" r="2.75" fill="#3a9aa6"/><circle cx="505.5" cy="312.3" r="2.75" fill="#cbd978"/><circle cx="505.5" cy="321.6" r="2.75" fill="#cbd978"/><circle cx="505.5" cy="276.0" r="2.75" fill="#4e89c8"/><circle cx="505.5" cy="277.2" r="2.75" fill="#3a9aa6"/><circle cx="505.5" cy="288.9" r="2.75" fill="#4e89c8"/><circle cx="505.5" cy="308.8" r="2.75" fill="#cbd978"/><circle cx="505.5" cy="313.4" r="2.75" fill="#cbd978"/><circle cx="505.5" cy="342.7" r="2.75" fill="#cbd978"/><line x1="553.5" y1="276.0" x2="553.5" y2="348.7" stroke="#999" stroke-opacity="1"/><circle cx="553.5" cy="299.4" r="2.75" fill="#4e89c8"/><circle cx="553.5" cy="288.9" r="2.75" fill="#3a9aa6"/><circle cx="553.5" cy="317.0" r="2.75" fill="#4d8f70"/><circle cx="553.5" cy="322.8" r="2.75" fill="#cbd978"/><circle cx="553.5" cy="331.0" r="2.75" fill="#cbd978"/><circle cx="553.5" cy="324.0" r="2.75" fill="#cbd978"/><circle cx="553.5" cy="309.9" r="2.75" fill="#cbd978"/><circle cx="553.5" cy="328.7" r="2.75" fill="#cbd978"/><circle cx="553.5" cy="326.3" r="2.75" fill="#3a9aa6"/><circle cx="553.5" cy="298.2" r="2.75" fill="#cbd978"/><circle cx="553.5" cy="319.3" r="2.75" fill="#4d8f70"/><circle cx="553.5" cy="286.5" r="2.75" fill="#cbd978"/><circle cx="553.5" cy="307.6" r="2.75" fill="#cbd978"/><circle cx="553.5" cy="318.1" r="2.75" fill="#cbd978"/><circle cx="553.5" cy="293.6" r="2.75" fill="#cbd978"/><circle cx="553.5" cy="304.1" r="2.75" fill="#cbd978"/><circle cx="553.5" cy="308.8" r="2.75" fill="#cbd978"/><circle cx="553.5" cy="315.8" r="2.75" fill="#4e89c8"/><circle cx="553.5" cy="302.9" r="2.75" fill="#3a9aa6"/><circle cx="553.5" cy="280.7" r="2.75" fill="#4e89c8"/><circle cx="553.5" cy="292.4" r="2.75" fill="#cbd978"/><circle cx="553.5" cy="313.4" r="2.75" fill="#cbd978"/><circle cx="553.5" cy="287.7" r="2.75" fill="#4d8f70"/><circle cx="553.5" cy="327.5" r="2.75" fill="#cbd978"/><circle cx="553.5" cy="279.5" r="2.75" fill="#3a9aa6"/><circle cx="553.5" cy="329.8" r="2.75" fill="#4e89c8"/><circle cx="553.5" cy="334.5" r="2.75" fill="#4e89c8"/><circle cx="553.5" cy="333.3" r="2.75" fill="#3a9aa6"/><circle cx="553.5" cy="290.0" r="2.75" fill="#4e89c8"/><circle cx="553.5" cy="283.0" r="2.75" fill="#4e89c8"/><circle cx="553.5" cy="294.7" r="2.75" fill="#4d8f70"/><circle cx="553.5" cy="314.6" r="2.75" fill="#4e89c8"/><circle cx="553.5" cy="281.9" r="2.75" fill="#cbd978"/><circle cx="553.5" cy="297.1" r="2.75" fill="#3a9aa6"/><circle cx="553.5" cy="300.6" r="2.75" fill="#cbd978"/><circle cx="553.5" cy="348.7" r="2.75" fill="#cbd978"/><circle cx="553.5" cy="325.1" r="2.75" fill="#cbd978"/><circle cx="553.5" cy="276.0" r="2.75" fill="#4e89c8"/><circle cx="553.5" cy="277.2" r="2.75" fill="#cbd978"/><circle cx="553.5" cy="332.2" r="2.75" fill="#4d8f70"/><circle cx="553.5" cy="335.7" r="2.75" fill="#d35b65"/><circle cx="553.5" cy="311.1" r="2.75" fill="#3a9aa6"/><circle cx="553.5" cy="284.2" r="2.75" fill="#cbd978"/><circle cx="553.5" cy="278.3" r="2.75" fill="#4d8f70"/><circle cx="553.5" cy="301.7" r="2.75" fill="#4d8f70"/><circle cx="553.5" cy="312.3" r="2.75" fill="#4d8f70"/><circle cx="553.5" cy="305.3" r="2.75" fill="#cbd978"/><circle cx="553.5" cy="306.4" r="2.75" fill="#4e89c8"/><circle cx="553.5" cy="321.6" r="2.75" fill="#4d8f70"/><circle cx="553.5" cy="320.5" r="2.75" fill="#cbd978"/><circle cx="553.5" cy="295.9" r="2.75" fill="#cbd978"/><circle cx="553.5" cy="285.4" r="2.75" fill="#cbd978"/><circle cx="553.5" cy="291.2" r="2.75" fill="#cbd978"/><line x1="313.5" y1="410.5" x2="313.5" y2="506.0" stroke="#999" stroke-opacity="1"/><circle cx="313.5" cy="493.8" r="2.75" fill="#d35b65"/><circle cx="313.5" cy="505.5" r="2.75" fill="#4d8f70"/><circle cx="313.5" cy="441.1" r="2.75" fill="#cbd978"/><circle cx="313.5" cy="430.6" r="2.75" fill="#cbd978"/><circle cx="313.5" cy="478.6" r="2.75" fill="#cbd978"/><circle cx="313.5" cy="502.0" r="2.75" fill="#cbd978"/><circle cx="313.5" cy="429.4" r="2.75" fill="#cbd978"/><circle cx="313.5" cy="431.8" r="2.75" fill="#cbd978"/><circle cx="313.5" cy="472.7" r="2.75" fill="#cbd978"/><circle cx="313.5" cy="491.4" r="2.75" fill="#4e89c8"/><circle cx="313.5" cy="494.9" r="2.75" fill="#cbd978"/><circle cx="313.5" cy="454.0" r="2.75" fill="#4e89c8"/><circle cx="313.5" cy="492.6" r="2.75" fill="#4e89c8"/><circle cx="313.5" cy="477.4" r="2.75" fill="#cbd978"/><circle cx="313.5" cy="483.2" r="2.75" fill="#4d8f70"/><circle cx="313.5" cy="447.0" r="2.75" fill="#cbd978"/><circle cx="313.5" cy="434.1" r="2.75" fill="#cbd978"/><circle cx="313.5" cy="448.1" r="2.75" fill="#cbd978"/><circle cx="313.5" cy="463.4" r="2.75" fill="#4e89c8"/><circle cx="313.5" cy="424.7" r="2.75" fill="#cbd978"/><circle cx="313.5" cy="462.2" r="2.75" fill="#cbd978"/><circle cx="313.5" cy="466.9" r="2.75" fill="#cbd978"/><circle cx="313.5" cy="504.3" r="2.75" fill="#cbd978"/><circle cx="313.5" cy="489.1" r="2.75" fill="#4d8f70"/><circle cx="313.5" cy="451.7" r="2.75" fill="#cbd978"/><circle cx="313.5" cy="423.6" r="2.75" fill="#cbd978"/><circle cx="313.5" cy="442.3" r="2.75" fill="#cbd978"/><circle cx="313.5" cy="457.5" r="2.75" fill="#cbd978"/><circle cx="313.5" cy="475.1" r="2.75" fill="#cbd978"/><circle cx="313.5" cy="499.6" r="2.75" fill="#cbd978"/><circle cx="313.5" cy="450.5" r="2.75" fill="#d35b65"/><circle cx="313.5" cy="443.5" r="2.75" fill="#cbd978"/><circle cx="313.5" cy="437.6" r="2.75" fill="#cbd978"/><circle cx="313.5" cy="452.8" r="2.75" fill="#4e89c8"/><circle cx="313.5" cy="422.4" r="2.75" fill="#3a9aa6"/><circle cx="313.5" cy="497.3" r="2.75" fill="#4d8f70"/><circle cx="313.5" cy="496.1" r="2.75" fill="#cbd978"/><circle cx="313.5" cy="471.5" r="2.75" fill="#4e89c8"/><circle cx="313.5" cy="456.3" r="2.75" fill="#cbd978"/><circle cx="313.5" cy="498.5" r="2.75" fill="#4d8f70"/><circle cx="313.5" cy="468.0" r="2.75" fill="#cbd978"/><circle cx="313.5" cy="473.9" r="2.75" fill="#4d8f70"/><circle cx="313.5" cy="482.1" r="2.75" fill="#3a9aa6"/><circle cx="313.5" cy="465.7" r="2.75" fill="#cbd978"/><circle cx="313.5" cy="445.8" r="2.75" fill="#cbd978"/><circle cx="313.5" cy="449.3" r="2.75" fill="#4d8f70"/><circle cx="313.5" cy="479.7" r="2.75" fill="#d35b65"/><circle cx="313.5" cy="444.6" r="2.75" fill="#cbd978"/><circle cx="313.5" cy="480.9" r="2.75" fill="#3a9aa6"/><circle cx="313.5" cy="484.4" r="2.75" fill="#3a9aa6"/><circle cx="313.5" cy="435.3" r="2.75" fill="#cbd978"/><circle cx="313.5" cy="476.2" r="2.75" fill="#d35b65"/><circle cx="313.5" cy="503.1" r="2.75" fill="#cbd978"/><circle cx="313.5" cy="440.0" r="2.75" fill="#3a9aa6"/><circle cx="313.5" cy="432.9" r="2.75" fill="#cbd978"/><circle cx="313.5" cy="410.5" r="2.75" fill="#cbd978"/><circle cx="313.5" cy="458.7" r="2.75" fill="#4d8f70"/><circle cx="313.5" cy="486.8" r="2.75" fill="#cbd978"/><circle cx="313.5" cy="427.1" r="2.75" fill="#3a9aa6"/><circle cx="313.5" cy="436.4" r="2.75" fill="#cbd978"/><circle cx="313.5" cy="487.9" r="2.75" fill="#cbd978"/><circle cx="313.5" cy="490.3" r="2.75" fill="#cbd978"/><circle cx="313.5" cy="469.2" r="2.75" fill="#cbd978"/><circle cx="313.5" cy="464.5" r="2.75" fill="#cbd978"/><circle cx="313.5" cy="500.8" r="2.75" fill="#4d8f70"/><circle cx="313.5" cy="485.6" r="2.75" fill="#cbd978"/><circle cx="313.5" cy="461.0" r="2.75" fill="#4d8f70"/><circle cx="313.5" cy="428.3" r="2.75" fill="#d35b65"/><circle cx="313.5" cy="459.8" r="2.75" fill="#cbd978"/><circle cx="313.5" cy="470.4" r="2.75" fill="#4d8f70"/><circle cx="313.5" cy="438.8" r="2.75" fill="#3a9aa6"/><circle cx="313.5" cy="425.9" r="2.75" fill="#cbd978"/><circle cx="313.5" cy="455.2" r="2.75" fill="#3a9aa6"/><circle cx="313.5" cy="516.1" r="2.75" fill="#c5d772"/><line x1="361.5" y1="410.5" x2="361.5" y2="507.1" stroke="#999" stroke-opacity="1"/><circle cx="361.5" cy="486.6" r="2.75" fill="#cbd978"/><circle cx="361.5" cy="472.5" r="2.75" fill="#cbd978"/><circle cx="361.5" cy="481.9" r="2.75" fill="#cbd978"/><circle cx="361.5" cy="499.4" r="2.75" fill="#cbd978"/><circle cx="361.5" cy="411.7" r="2.75" fill="#4d8f70"/><circle cx="361.5" cy="410.5" r="2.75" fill="#cbd978"/><circle cx="361.5" cy="440.9" r="2.75" fill="#cbd978"/><circle cx="361.5" cy="430.4" r="2.75" fill="#cbd978"/><circle cx="361.5" cy="428.1" r="2.75" fill="#4e89c8"/><circle cx="361.5" cy="490.1" r="2.75" fill="#cbd978"/><circle cx="361.5" cy="500.6" r="2.75" fill="#cbd978"/><circle cx="361.5" cy="460.8" r="2.75" fill="#cbd978"/><circle cx="361.5" cy="416.4" r="2.75" fill="#4d8f70"/><circle cx="361.5" cy="439.8" r="2.75" fill="#4d8f70"/><circle cx="361.5" cy="480.7" r="2.75" fill="#cbd978"/><circle cx="361.5" cy="478.4" r="2.75" fill="#cbd978"/><circle cx="361.5" cy="506.4" r="2.75" fill="#4d8f70"/><circle cx="361.5" cy="445.6" r="2.75" fill="#4d8f70"/><circle cx="361.5" cy="474.9" r="2.75" fill="#d35b65"/><circle cx="361.5" cy="491.2" r="2.75" fill="#cbd978"/><circle cx="361.5" cy="467.8" r="2.75" fill="#3a9aa6"/><circle cx="361.5" cy="417.5" r="2.75" fill="#4e89c8"/><circle cx="361.5" cy="446.8" r="2.75" fill="#cbd978"/><circle cx="361.5" cy="456.1" r="2.75" fill="#4d8f70"/><circle cx="361.5" cy="459.6" r="2.75" fill="#cbd978"/><circle cx="361.5" cy="504.1" r="2.75" fill="#cbd978"/><circle cx="361.5" cy="488.9" r="2.75" fill="#cbd978"/><circle cx="361.5" cy="466.7" r="2.75" fill="#4e89c8"/><circle cx="361.5" cy="415.2" r="2.75" fill="#4d8f70"/><circle cx="361.5" cy="418.7" r="2.75" fill="#cbd978"/><circle cx="361.5" cy="431.6" r="2.75" fill="#cbd978"/><circle cx="361.5" cy="479.5" r="2.75" fill="#4d8f70"/><circle cx="361.5" cy="464.3" r="2.75" fill="#d35b65"/><circle cx="361.5" cy="487.7" r="2.75" fill="#3a9aa6"/><circle cx="361.5" cy="485.4" r="2.75" fill="#3a9aa6"/><circle cx="361.5" cy="471.3" r="2.75" fill="#4e89c8"/><circle cx="361.5" cy="451.5" r="2.75" fill="#4d8f70"/><circle cx="361.5" cy="443.3" r="2.75" fill="#cbd978"/><circle cx="361.5" cy="421.0" r="2.75" fill="#4e89c8"/><circle cx="361.5" cy="449.1" r="2.75" fill="#4e89c8"/><circle cx="361.5" cy="505.3" r="2.75" fill="#4e89c8"/><circle cx="361.5" cy="453.8" r="2.75" fill="#d35b65"/><circle cx="361.5" cy="436.2" r="2.75" fill="#3a9aa6"/><circle cx="361.5" cy="412.8" r="2.75" fill="#cbd978"/><circle cx="361.5" cy="492.4" r="2.75" fill="#4e89c8"/><circle cx="361.5" cy="465.5" r="2.75" fill="#cbd978"/><circle cx="361.5" cy="462.0" r="2.75" fill="#4e89c8"/><circle cx="361.5" cy="455.0" r="2.75" fill="#cbd978"/><circle cx="361.5" cy="476.0" r="2.75" fill="#4d8f70"/><circle cx="361.5" cy="419.9" r="2.75" fill="#4d8f70"/><circle cx="361.5" cy="501.8" r="2.75" fill="#cbd978"/><circle cx="361.5" cy="498.3" r="2.75" fill="#cbd978"/><circle cx="361.5" cy="457.3" r="2.75" fill="#4e89c8"/><circle cx="361.5" cy="438.6" r="2.75" fill="#d35b65"/><circle cx="361.5" cy="497.1" r="2.75" fill="#cbd978"/><circle cx="361.5" cy="447.9" r="2.75" fill="#4d8f70"/><circle cx="361.5" cy="450.3" r="2.75" fill="#cbd978"/><circle cx="361.5" cy="477.2" r="2.75" fill="#4d8f70"/><circle cx="361.5" cy="502.9" r="2.75" fill="#d35b65"/><circle cx="361.5" cy="429.2" r="2.75" fill="#d35b65"/><circle cx="361.5" cy="432.7" r="2.75" fill="#4e89c8"/><circle cx="361.5" cy="494.7" r="2.75" fill="#cbd978"/><circle cx="361.5" cy="437.4" r="2.75" fill="#cbd978"/><circle cx="361.5" cy="414.0" r="2.75" fill="#4d8f70"/><circle cx="361.5" cy="473.7" r="2.75" fill="#4d8f70"/><circle cx="361.5" cy="423.4" r="2.75" fill="#4d8f70"/><circle cx="361.5" cy="469.0" r="2.75" fill="#cbd978"/><circle cx="361.5" cy="470.2" r="2.75" fill="#4e89c8"/><circle cx="361.5" cy="424.5" r="2.75" fill="#4d8f70"/><circle cx="361.5" cy="463.2" r="2.75" fill="#3a9aa6"/><circle cx="361.5" cy="458.5" r="2.75" fill="#4e89c8"/><circle cx="361.5" cy="425.7" r="2.75" fill="#4e89c8"/><circle cx="361.5" cy="493.6" r="2.75" fill="#cbd978"/><circle cx="361.5" cy="483.0" r="2.75" fill="#4e89c8"/><circle cx="361.5" cy="422.2" r="2.75" fill="#cbd978"/><circle cx="361.5" cy="426.9" r="2.75" fill="#cbd978"/><circle cx="361.5" cy="435.1" r="2.75" fill="#4d8f70"/><circle cx="361.5" cy="484.2" r="2.75" fill="#4d8f70"/><circle cx="361.5" cy="444.4" r="2.75" fill="#cbd978"/><circle cx="361.5" cy="442.1" r="2.75" fill="#cbd978"/><circle cx="361.5" cy="452.6" r="2.75" fill="#cbd978"/><circle cx="361.5" cy="433.9" r="2.75" fill="#3a9aa6"/><circle cx="361.5" cy="495.9" r="2.75" fill="#cbd978"/><circle cx="361.5" cy="522.2" r="2.75" fill="#4e89c8"/><line x1="409.5" y1="411.6" x2="409.5" y2="495.1" stroke="#999" stroke-opacity="1"/><circle cx="409.5" cy="480.6" r="2.75" fill="#4e89c8"/><circle cx="409.5" cy="422.1" r="2.75" fill="#cbd978"/><circle cx="409.5" cy="443.2" r="2.75" fill="#4d8f70"/><circle cx="409.5" cy="412.8" r="2.75" fill="#4e89c8"/><circle cx="409.5" cy="454.9" r="2.75" fill="#cbd978"/><circle cx="409.5" cy="459.6" r="2.75" fill="#4d8f70"/><circle cx="409.5" cy="476.0" r="2.75" fill="#cbd978"/><circle cx="409.5" cy="483.0" r="2.75" fill="#cbd978"/><circle cx="409.5" cy="421.0" r="2.75" fill="#cbd978"/><circle cx="409.5" cy="432.7" r="2.75" fill="#cbd978"/><circle cx="409.5" cy="490.0" r="2.75" fill="#4e89c8"/><circle cx="409.5" cy="473.6" r="2.75" fill="#cbd978"/><circle cx="409.5" cy="478.3" r="2.75" fill="#cbd978"/><circle cx="409.5" cy="423.3" r="2.75" fill="#4d8f70"/><circle cx="409.5" cy="438.5" r="2.75" fill="#4d8f70"/><circle cx="409.5" cy="453.7" r="2.75" fill="#4d8f70"/><circle cx="409.5" cy="444.4" r="2.75" fill="#4e89c8"/><circle cx="409.5" cy="492.3" r="2.75" fill="#4e89c8"/><circle cx="409.5" cy="429.2" r="2.75" fill="#cbd978"/><circle cx="409.5" cy="477.1" r="2.75" fill="#4e89c8"/><circle cx="409.5" cy="435.0" r="2.75" fill="#cbd978"/><circle cx="409.5" cy="486.5" r="2.75" fill="#cbd978"/><circle cx="409.5" cy="468.9" r="2.75" fill="#cbd978"/><circle cx="409.5" cy="417.5" r="2.75" fill="#4d8f70"/><circle cx="409.5" cy="451.4" r="2.75" fill="#cbd978"/><circle cx="409.5" cy="484.1" r="2.75" fill="#cbd978"/><circle cx="409.5" cy="491.2" r="2.75" fill="#3a9aa6"/><circle cx="409.5" cy="447.9" r="2.75" fill="#cbd978"/><circle cx="409.5" cy="471.3" r="2.75" fill="#cbd978"/><circle cx="409.5" cy="452.6" r="2.75" fill="#3a9aa6"/><circle cx="409.5" cy="446.7" r="2.75" fill="#cbd978"/><circle cx="409.5" cy="460.7" r="2.75" fill="#4e89c8"/><circle cx="409.5" cy="433.8" r="2.75" fill="#3a9aa6"/><circle cx="409.5" cy="428.0" r="2.75" fill="#cbd978"/><circle cx="409.5" cy="418.6" r="2.75" fill="#4e89c8"/><circle cx="409.5" cy="464.3" r="2.75" fill="#cbd978"/><circle cx="409.5" cy="472.4" r="2.75" fill="#cbd978"/><circle cx="409.5" cy="456.1" r="2.75" fill="#cbd978"/><circle cx="409.5" cy="487.7" r="2.75" fill="#4e89c8"/><circle cx="409.5" cy="416.3" r="2.75" fill="#cbd978"/><circle cx="409.5" cy="411.6" r="2.75" fill="#cbd978"/><circle cx="409.5" cy="470.1" r="2.75" fill="#4e89c8"/><circle cx="409.5" cy="474.8" r="2.75" fill="#cbd978"/><circle cx="409.5" cy="439.7" r="2.75" fill="#3a9aa6"/><circle cx="409.5" cy="431.5" r="2.75" fill="#cbd978"/><circle cx="409.5" cy="430.3" r="2.75" fill="#cbd978"/><circle cx="409.5" cy="415.1" r="2.75" fill="#cbd978"/><circle cx="409.5" cy="458.4" r="2.75" fill="#4d8f70"/><circle cx="409.5" cy="437.3" r="2.75" fill="#cbd978"/><circle cx="409.5" cy="457.2" r="2.75" fill="#cbd978"/><circle cx="409.5" cy="465.4" r="2.75" fill="#cbd978"/><circle cx="409.5" cy="419.8" r="2.75" fill="#4d8f70"/><circle cx="409.5" cy="467.8" r="2.75" fill="#3a9aa6"/><circle cx="409.5" cy="449.0" r="2.75" fill="#cbd978"/><circle cx="409.5" cy="494.7" r="2.75" fill="#4e89c8"/><circle cx="409.5" cy="424.5" r="2.75" fill="#d35b65"/><circle cx="409.5" cy="461.9" r="2.75" fill="#4e89c8"/><circle cx="409.5" cy="426.8" r="2.75" fill="#cbd978"/><circle cx="409.5" cy="445.5" r="2.75" fill="#4e89c8"/><circle cx="409.5" cy="485.3" r="2.75" fill="#3a9aa6"/><circle cx="409.5" cy="493.5" r="2.75" fill="#4e89c8"/><circle cx="409.5" cy="436.2" r="2.75" fill="#cbd978"/><circle cx="409.5" cy="450.2" r="2.75" fill="#cbd978"/><circle cx="409.5" cy="466.6" r="2.75" fill="#4d8f70"/><circle cx="409.5" cy="413.9" r="2.75" fill="#d35b65"/><circle cx="409.5" cy="481.8" r="2.75" fill="#cbd978"/><circle cx="409.5" cy="442.0" r="2.75" fill="#3a9aa6"/><circle cx="409.5" cy="479.5" r="2.75" fill="#cbd978"/><circle cx="409.5" cy="425.6" r="2.75" fill="#4d8f70"/><circle cx="409.5" cy="463.1" r="2.75" fill="#4e89c8"/><circle cx="409.5" cy="488.8" r="2.75" fill="#cbd978"/><circle cx="409.5" cy="440.9" r="2.75" fill="#3a9aa6"/><circle cx="409.5" cy="501.0" r="2.75" fill="#4d8f70"/><circle cx="409.5" cy="510.9" r="2.75" fill="#c5d772"/><line x1="457.5" y1="410.5" x2="457.5" y2="491.3" stroke="#999" stroke-opacity="1"/><circle cx="457.5" cy="426.9" r="2.75" fill="#4d8f70"/><circle cx="457.5" cy="488.9" r="2.75" fill="#4d8f70"/><circle cx="457.5" cy="439.8" r="2.75" fill="#cbd978"/><circle cx="457.5" cy="485.4" r="2.75" fill="#3a9aa6"/><circle cx="457.5" cy="470.2" r="2.75" fill="#cbd978"/><circle cx="457.5" cy="445.6" r="2.75" fill="#3a9aa6"/><circle cx="457.5" cy="449.1" r="2.75" fill="#cbd978"/><circle cx="457.5" cy="487.7" r="2.75" fill="#cbd978"/><circle cx="457.5" cy="416.4" r="2.75" fill="#4e89c8"/><circle cx="457.5" cy="457.3" r="2.75" fill="#4d8f70"/><circle cx="457.5" cy="447.9" r="2.75" fill="#cbd978"/><circle cx="457.5" cy="460.8" r="2.75" fill="#cbd978"/><circle cx="457.5" cy="464.3" r="2.75" fill="#cbd978"/><circle cx="457.5" cy="419.9" r="2.75" fill="#cbd978"/><circle cx="457.5" cy="424.5" r="2.75" fill="#d35b65"/><circle cx="457.5" cy="443.3" r="2.75" fill="#cbd978"/><circle cx="457.5" cy="432.7" r="2.75" fill="#cbd978"/><circle cx="457.5" cy="453.8" r="2.75" fill="#3a9aa6"/><circle cx="457.5" cy="414.0" r="2.75" fill="#4e89c8"/><circle cx="457.5" cy="469.0" r="2.75" fill="#cbd978"/><circle cx="457.5" cy="456.1" r="2.75" fill="#cbd978"/><circle cx="457.5" cy="467.8" r="2.75" fill="#4d8f70"/><circle cx="457.5" cy="425.7" r="2.75" fill="#3a9aa6"/><circle cx="457.5" cy="436.2" r="2.75" fill="#4d8f70"/><circle cx="457.5" cy="463.2" r="2.75" fill="#3a9aa6"/><circle cx="457.5" cy="473.7" r="2.75" fill="#3a9aa6"/><circle cx="457.5" cy="491.2" r="2.75" fill="#cbd978"/><circle cx="457.5" cy="438.6" r="2.75" fill="#4d8f70"/><circle cx="457.5" cy="471.3" r="2.75" fill="#cbd978"/><circle cx="457.5" cy="486.6" r="2.75" fill="#cbd978"/><circle cx="457.5" cy="429.2" r="2.75" fill="#cbd978"/><circle cx="457.5" cy="417.5" r="2.75" fill="#cbd978"/><circle cx="457.5" cy="435.1" r="2.75" fill="#cbd978"/><circle cx="457.5" cy="412.8" r="2.75" fill="#4d8f70"/><circle cx="457.5" cy="451.5" r="2.75" fill="#4e89c8"/><circle cx="457.5" cy="411.7" r="2.75" fill="#4e89c8"/><circle cx="457.5" cy="458.5" r="2.75" fill="#cbd978"/><circle cx="457.5" cy="423.4" r="2.75" fill="#3a9aa6"/><circle cx="457.5" cy="415.2" r="2.75" fill="#3a9aa6"/><circle cx="457.5" cy="440.9" r="2.75" fill="#4e89c8"/><circle cx="457.5" cy="442.1" r="2.75" fill="#4d8f70"/><circle cx="457.5" cy="437.4" r="2.75" fill="#4e89c8"/><circle cx="457.5" cy="466.7" r="2.75" fill="#cbd978"/><circle cx="457.5" cy="431.6" r="2.75" fill="#4e89c8"/><circle cx="457.5" cy="459.6" r="2.75" fill="#4e89c8"/><circle cx="457.5" cy="476.0" r="2.75" fill="#d35b65"/><circle cx="457.5" cy="452.6" r="2.75" fill="#d35b65"/><circle cx="457.5" cy="479.5" r="2.75" fill="#4e89c8"/><circle cx="457.5" cy="483.0" r="2.75" fill="#4e89c8"/><circle cx="457.5" cy="433.9" r="2.75" fill="#cbd978"/><circle cx="457.5" cy="474.9" r="2.75" fill="#cbd978"/><circle cx="457.5" cy="410.5" r="2.75" fill="#cbd978"/><circle cx="457.5" cy="465.5" r="2.75" fill="#4e89c8"/><circle cx="457.5" cy="455.0" r="2.75" fill="#4e89c8"/><circle cx="457.5" cy="450.3" r="2.75" fill="#4d8f70"/><circle cx="457.5" cy="422.2" r="2.75" fill="#4e89c8"/><circle cx="457.5" cy="478.4" r="2.75" fill="#cbd978"/><circle cx="457.5" cy="428.1" r="2.75" fill="#cbd978"/><circle cx="457.5" cy="446.8" r="2.75" fill="#4e89c8"/><circle cx="457.5" cy="462.0" r="2.75" fill="#cbd978"/><circle cx="457.5" cy="421.0" r="2.75" fill="#cbd978"/><circle cx="457.5" cy="477.2" r="2.75" fill="#4d8f70"/><circle cx="457.5" cy="490.1" r="2.75" fill="#cbd978"/><circle cx="457.5" cy="481.9" r="2.75" fill="#4e89c8"/><circle cx="457.5" cy="418.7" r="2.75" fill="#cbd978"/><circle cx="457.5" cy="484.2" r="2.75" fill="#cbd978"/><circle cx="457.5" cy="480.7" r="2.75" fill="#cbd978"/><circle cx="457.5" cy="430.4" r="2.75" fill="#cbd978"/><circle cx="457.5" cy="444.4" r="2.75" fill="#3a9aa6"/><circle cx="457.5" cy="472.5" r="2.75" fill="#d35b65"/><line x1="505.5" y1="410.5" x2="505.5" y2="487.5" stroke="#999" stroke-opacity="1"/><circle cx="505.5" cy="421.0" r="2.75" fill="#4d8f70"/><circle cx="505.5" cy="430.4" r="2.75" fill="#4e89c8"/><circle cx="505.5" cy="469.0" r="2.75" fill="#cbd978"/><circle cx="505.5" cy="423.4" r="2.75" fill="#cbd978"/><circle cx="505.5" cy="472.5" r="2.75" fill="#d35b65"/><circle cx="505.5" cy="446.8" r="2.75" fill="#cbd978"/><circle cx="505.5" cy="418.7" r="2.75" fill="#cbd978"/><circle cx="505.5" cy="425.7" r="2.75" fill="#cbd978"/><circle cx="505.5" cy="478.4" r="2.75" fill="#cbd978"/><circle cx="505.5" cy="460.8" r="2.75" fill="#4e89c8"/><circle cx="505.5" cy="429.2" r="2.75" fill="#4e89c8"/><circle cx="505.5" cy="458.5" r="2.75" fill="#4e89c8"/><circle cx="505.5" cy="477.2" r="2.75" fill="#cbd978"/><circle cx="505.5" cy="480.7" r="2.75" fill="#4d8f70"/><circle cx="505.5" cy="436.2" r="2.75" fill="#cbd978"/><circle cx="505.5" cy="426.9" r="2.75" fill="#cbd978"/><circle cx="505.5" cy="443.3" r="2.75" fill="#4e89c8"/><circle cx="505.5" cy="471.3" r="2.75" fill="#cbd978"/><circle cx="505.5" cy="465.5" r="2.75" fill="#4d8f70"/><circle cx="505.5" cy="462.0" r="2.75" fill="#4e89c8"/><circle cx="505.5" cy="466.7" r="2.75" fill="#cbd978"/><circle cx="505.5" cy="435.1" r="2.75" fill="#cbd978"/><circle cx="505.5" cy="433.9" r="2.75" fill="#cbd978"/><circle cx="505.5" cy="467.8" r="2.75" fill="#3a9aa6"/><circle cx="505.5" cy="449.1" r="2.75" fill="#4d8f70"/><circle cx="505.5" cy="424.5" r="2.75" fill="#4d8f70"/><circle cx="505.5" cy="453.8" r="2.75" fill="#4e89c8"/><circle cx="505.5" cy="479.5" r="2.75" fill="#cbd978"/><circle cx="505.5" cy="455.0" r="2.75" fill="#cbd978"/><circle cx="505.5" cy="456.1" r="2.75" fill="#cbd978"/><circle cx="505.5" cy="463.2" r="2.75" fill="#cbd978"/><circle cx="505.5" cy="450.3" r="2.75" fill="#4e89c8"/><circle cx="505.5" cy="415.2" r="2.75" fill="#cbd978"/><circle cx="505.5" cy="416.4" r="2.75" fill="#4e89c8"/><circle cx="505.5" cy="459.6" r="2.75" fill="#4d8f70"/><circle cx="505.5" cy="444.4" r="2.75" fill="#4d8f70"/><circle cx="505.5" cy="419.9" r="2.75" fill="#4d8f70"/><circle cx="505.5" cy="437.4" r="2.75" fill="#4d8f70"/><circle cx="505.5" cy="487.5" r="2.75" fill="#cbd978"/><circle cx="505.5" cy="414.0" r="2.75" fill="#3a9aa6"/><circle cx="505.5" cy="442.1" r="2.75" fill="#cbd978"/><circle cx="505.5" cy="438.6" r="2.75" fill="#cbd978"/><circle cx="505.5" cy="464.3" r="2.75" fill="#cbd978"/><circle cx="505.5" cy="476.0" r="2.75" fill="#cbd978"/><circle cx="505.5" cy="417.5" r="2.75" fill="#4e89c8"/><circle cx="505.5" cy="474.9" r="2.75" fill="#4e89c8"/><circle cx="505.5" cy="447.9" r="2.75" fill="#d35b65"/><circle cx="505.5" cy="470.2" r="2.75" fill="#4e89c8"/><circle cx="505.5" cy="445.6" r="2.75" fill="#cbd978"/><circle cx="505.5" cy="412.8" r="2.75" fill="#4e89c8"/><circle cx="505.5" cy="452.6" r="2.75" fill="#cbd978"/><circle cx="505.5" cy="457.3" r="2.75" fill="#cbd978"/><circle cx="505.5" cy="451.5" r="2.75" fill="#4e89c8"/><circle cx="505.5" cy="440.9" r="2.75" fill="#cbd978"/><circle cx="505.5" cy="410.5" r="2.75" fill="#3a9aa6"/><circle cx="505.5" cy="432.7" r="2.75" fill="#4d8f70"/><circle cx="505.5" cy="411.7" r="2.75" fill="#cbd978"/><circle cx="505.5" cy="439.8" r="2.75" fill="#4d8f70"/><circle cx="505.5" cy="422.2" r="2.75" fill="#4d8f70"/><circle cx="505.5" cy="431.6" r="2.75" fill="#4e89c8"/><circle cx="505.5" cy="473.7" r="2.75" fill="#4d8f70"/><circle cx="505.5" cy="428.1" r="2.75" fill="#4e89c8"/><line x1="553.5" y1="410.5" x2="553.5" y2="477.7" stroke="#999" stroke-opacity="1"/><circle cx="553.5" cy="464.3" r="2.75" fill="#cbd978"/><circle cx="553.5" cy="456.1" r="2.75" fill="#cbd978"/><circle cx="553.5" cy="423.4" r="2.75" fill="#cbd978"/><circle cx="553.5" cy="440.9" r="2.75" fill="#cbd978"/><circle cx="553.5" cy="471.3" r="2.75" fill="#cbd978"/><circle cx="553.5" cy="465.5" r="2.75" fill="#d35b65"/><circle cx="553.5" cy="477.2" r="2.75" fill="#cbd978"/><circle cx="553.5" cy="415.2" r="2.75" fill="#cbd978"/><circle cx="553.5" cy="469.0" r="2.75" fill="#3a9aa6"/><circle cx="553.5" cy="414.0" r="2.75" fill="#3a9aa6"/><circle cx="553.5" cy="425.7" r="2.75" fill="#cbd978"/><circle cx="553.5" cy="455.0" r="2.75" fill="#4d8f70"/><circle cx="553.5" cy="428.1" r="2.75" fill="#3a9aa6"/><circle cx="553.5" cy="444.4" r="2.75" fill="#cbd978"/><circle cx="553.5" cy="445.6" r="2.75" fill="#cbd978"/><circle cx="553.5" cy="473.7" r="2.75" fill="#cbd978"/><circle cx="553.5" cy="458.5" r="2.75" fill="#4d8f70"/><circle cx="553.5" cy="474.9" r="2.75" fill="#cbd978"/><circle cx="553.5" cy="460.8" r="2.75" fill="#cbd978"/><circle cx="553.5" cy="419.9" r="2.75" fill="#cbd978"/><circle cx="553.5" cy="417.5" r="2.75" fill="#4e89c8"/><circle cx="553.5" cy="476.0" r="2.75" fill="#4d8f70"/><circle cx="553.5" cy="449.1" r="2.75" fill="#cbd978"/><circle cx="553.5" cy="435.1" r="2.75" fill="#cbd978"/><circle cx="553.5" cy="411.7" r="2.75" fill="#cbd978"/><circle cx="553.5" cy="432.7" r="2.75" fill="#4e89c8"/><circle cx="553.5" cy="457.3" r="2.75" fill="#cbd978"/><circle cx="553.5" cy="418.7" r="2.75" fill="#cbd978"/><circle cx="553.5" cy="437.4" r="2.75" fill="#cbd978"/><circle cx="553.5" cy="447.9" r="2.75" fill="#3a9aa6"/><circle cx="553.5" cy="439.8" r="2.75" fill="#4e89c8"/><circle cx="553.5" cy="424.5" r="2.75" fill="#cbd978"/><circle cx="553.5" cy="438.6" r="2.75" fill="#cbd978"/><circle cx="553.5" cy="463.2" r="2.75" fill="#cbd978"/><circle cx="553.5" cy="416.4" r="2.75" fill="#cbd978"/><circle cx="553.5" cy="450.3" r="2.75" fill="#3a9aa6"/><circle cx="553.5" cy="436.2" r="2.75" fill="#4d8f70"/><circle cx="553.5" cy="446.8" r="2.75" fill="#3a9aa6"/><circle cx="553.5" cy="451.5" r="2.75" fill="#3a9aa6"/><circle cx="553.5" cy="466.7" r="2.75" fill="#cbd978"/><circle cx="553.5" cy="459.6" r="2.75" fill="#cbd978"/><circle cx="553.5" cy="452.6" r="2.75" fill="#cbd978"/><circle cx="553.5" cy="421.0" r="2.75" fill="#4d8f70"/><circle cx="553.5" cy="472.5" r="2.75" fill="#cbd978"/><circle cx="553.5" cy="412.8" r="2.75" fill="#4d8f70"/><circle cx="553.5" cy="453.8" r="2.75" fill="#3a9aa6"/><circle cx="553.5" cy="422.2" r="2.75" fill="#4e89c8"/><circle cx="553.5" cy="442.1" r="2.75" fill="#cbd978"/><circle cx="553.5" cy="430.4" r="2.75" fill="#cbd978"/><circle cx="553.5" cy="429.2" r="2.75" fill="#cbd978"/><circle cx="553.5" cy="433.9" r="2.75" fill="#cbd978"/><circle cx="553.5" cy="410.5" r="2.75" fill="#cbd978"/><circle cx="553.5" cy="462.0" r="2.75" fill="#cbd978"/><circle cx="553.5" cy="431.6" r="2.75" fill="#4d8f70"/><circle cx="553.5" cy="443.3" r="2.75" fill="#cbd978"/><circle cx="553.5" cy="470.2" r="2.75" fill="#cbd978"/><circle cx="553.5" cy="426.9" r="2.75" fill="#cbd978"/><circle cx="553.5" cy="467.8" r="2.75" fill="#cbd978"/></g><rect x="301.5" y="174.5" width="24" height="11.1" fill="#d2d2d2" fill-opacity="0.56"/><rect x="301.5" y="185.6" width="24" height="10.9" fill="#9a9a9a" fill-opacity="0.56"/><path d="M301.5,174.5h24M301.5,196.5h24" stroke="#6c6c6c" stroke-width="1.2"/><path d="M301.5,143.3h24M301.5,227.2h24" stroke="#383838" stroke-width="1.8"/><rect x="349.5" y="172.2" width="24" height="10.7" fill="#d2d2d2" fill-opacity="0.56"/><rect x="349.5" y="182.9" width="24" height="13.6" fill="#9a9a9a" fill-opacity="0.56"/><path d="M349.5,172.2h24M349.5,196.5h24" stroke="#6c6c6c" stroke-width="1.2"/><path d="M349.5,145.4h24M349.5,230.1h24" stroke="#383838" stroke-width="1.8"/><rect x="397.5" y="169.9" width="24" height="10.1" fill="#d2d2d2" fill-opacity="0.56"/><rect x="397.5" y="180.0" width="24" height="9.4" fill="#9a9a9a" fill-opacity="0.56"/><path d="M397.5,169.9h24M397.5,189.4h24" stroke="#6c6c6c" stroke-width="1.2"/><path d="M397.5,142.5h24M397.5,217.6h24" stroke="#383838" stroke-width="1.8"/><rect x="445.5" y="165.4" width="24" height="15.2" fill="#d2d2d2" fill-opacity="0.56"/><rect x="445.5" y="180.6" width="24" height="11.0" fill="#9a9a9a" fill-opacity="0.56"/><path d="M445.5,165.4h24M445.5,191.6h24" stroke="#6c6c6c" stroke-width="1.2"/><path d="M445.5,142.5h24M445.5,228.2h24" stroke="#383838" stroke-width="1.8"/><rect x="493.5" y="166.5" width="24" height="13.2" fill="#d2d2d2" fill-opacity="0.56"/><rect x="493.5" y="179.7" width="24" height="7.7" fill="#9a9a9a" fill-opacity="0.56"/><path d="M493.5,166.5h24M493.5,187.4h24" stroke="#6c6c6c" stroke-width="1.2"/><path d="M493.5,142.5h24M493.5,215.4h24" stroke="#383838" stroke-width="1.8"/><rect x="541.5" y="163.8" width="24" height="10.1" fill="#d2d2d2" fill-opacity="0.56"/><rect x="541.5" y="173.9" width="24" height="19.5" fill="#9a9a9a" fill-opacity="0.56"/><path d="M541.5,163.8h24M541.5,193.4h24" stroke="#6c6c6c" stroke-width="1.2"/><path d="M541.5,147.9h24M541.5,212.5h24" stroke="#383838" stroke-width="1.8"/><rect x="301.5" y="308.1" width="24" height="10.8" fill="#d2d2d2" fill-opacity="0.56"/><rect x="301.5" y="318.9" width="24" height="14.7" fill="#9a9a9a" fill-opacity="0.56"/><path d="M301.5,308.1h24M301.5,333.6h24" stroke="#6c6c6c" stroke-width="1.2"/><path d="M301.5,277.2h24M301.5,371.3h24" stroke="#383838" stroke-width="1.8"/><rect x="349.5" y="302.0" width="24" height="15.8" fill="#d2d2d2" fill-opacity="0.56"/><rect x="349.5" y="317.8" width="24" height="12.9" fill="#9a9a9a" fill-opacity="0.56"/><path d="M349.5,302.0h24M349.5,330.7h24" stroke="#6c6c6c" stroke-width="1.2"/><path d="M349.5,276.0h24M349.5,369.0h24" stroke="#383838" stroke-width="1.8"/><rect x="397.5" y="300.4" width="24" height="12.9" fill="#d2d2d2" fill-opacity="0.56"/><rect x="397.5" y="313.3" width="24" height="12.8" fill="#9a9a9a" fill-opacity="0.56"/><path d="M397.5,300.4h24M397.5,326.1h24" stroke="#6c6c6c" stroke-width="1.2"/><path d="M397.5,276.0h24M397.5,353.9h24" stroke="#383838" stroke-width="1.8"/><rect x="445.5" y="299.3" width="24" height="11.7" fill="#d2d2d2" fill-opacity="0.56"/><rect x="445.5" y="311.0" width="24" height="13.6" fill="#9a9a9a" fill-opacity="0.56"/><path d="M445.5,299.3h24M445.5,324.6h24" stroke="#6c6c6c" stroke-width="1.2"/><path d="M445.5,276.0h24M445.5,354.6h24" stroke="#383838" stroke-width="1.8"/><rect x="493.5" y="296.3" width="24" height="13.6" fill="#d2d2d2" fill-opacity="0.56"/><rect x="493.5" y="309.9" width="24" height="12.4" fill="#9a9a9a" fill-opacity="0.56"/><path d="M493.5,296.3h24M493.5,322.3h24" stroke="#6c6c6c" stroke-width="1.2"/><path d="M493.5,276.0h24M493.5,350.5h24" stroke="#383838" stroke-width="1.8"/><rect x="541.5" y="295.2" width="24" height="10.8" fill="#d2d2d2" fill-opacity="0.56"/><rect x="541.5" y="306.0" width="24" height="13.4" fill="#9a9a9a" fill-opacity="0.56"/><path d="M541.5,295.2h24M541.5,319.4h24" stroke="#6c6c6c" stroke-width="1.2"/><path d="M541.5,276.0h24M541.5,348.7h24" stroke="#383838" stroke-width="1.8"/><rect x="301.5" y="443.2" width="24" height="12.4" fill="#d2d2d2" fill-opacity="0.56"/><rect x="301.5" y="455.6" width="24" height="14.7" fill="#9a9a9a" fill-opacity="0.56"/><path d="M301.5,443.2h24M301.5,470.3h24" stroke="#6c6c6c" stroke-width="1.2"/><path d="M301.5,410.5h24M301.5,506.0h24" stroke="#383838" stroke-width="1.8"/><rect x="349.5" y="438.2" width="24" height="14.7" fill="#d2d2d2" fill-opacity="0.56"/><rect x="349.5" y="452.9" width="24" height="14.7" fill="#9a9a9a" fill-opacity="0.56"/><path d="M349.5,438.2h24M349.5,467.6h24" stroke="#6c6c6c" stroke-width="1.2"/><path d="M349.5,410.5h24M349.5,507.1h24" stroke="#383838" stroke-width="1.8"/><rect x="397.5" y="436.0" width="24" height="11.7" fill="#d2d2d2" fill-opacity="0.56"/><rect x="397.5" y="447.7" width="24" height="11.5" fill="#9a9a9a" fill-opacity="0.56"/><path d="M397.5,436.0h24M397.5,459.2h24" stroke="#6c6c6c" stroke-width="1.2"/><path d="M397.5,411.6h24M397.5,495.1h24" stroke="#383838" stroke-width="1.8"/><rect x="445.5" y="434.4" width="24" height="12.9" fill="#d2d2d2" fill-opacity="0.56"/><rect x="445.5" y="447.3" width="24" height="14.7" fill="#9a9a9a" fill-opacity="0.56"/><path d="M445.5,434.4h24M445.5,462.0h24" stroke="#6c6c6c" stroke-width="1.2"/><path d="M445.5,410.5h24M445.5,491.3h24" stroke="#383838" stroke-width="1.8"/><rect x="493.5" y="430.3" width="24" height="12.9" fill="#d2d2d2" fill-opacity="0.56"/><rect x="493.5" y="443.2" width="24" height="13.8" fill="#9a9a9a" fill-opacity="0.56"/><path d="M493.5,430.3h24M493.5,457.0h24" stroke="#6c6c6c" stroke-width="1.2"/><path d="M493.5,410.5h24M493.5,487.5h24" stroke="#383838" stroke-width="1.8"/><rect x="541.5" y="428.5" width="24" height="13.6" fill="#d2d2d2" fill-opacity="0.56"/><rect x="541.5" y="442.1" width="24" height="9.0" fill="#9a9a9a" fill-opacity="0.56"/><path d="M541.5,428.5h24M541.5,451.1h24" stroke="#6c6c6c" stroke-width="1.2"/><path d="M541.5,410.5h24M541.5,477.7h24" stroke="#383838" stroke-width="1.8"/><text x="313.5" y="548.8" font-size="9.4" font-weight="bold" fill="#333" text-anchor="middle" textLength="47.599999999999994" lengthAdjust="spacingAndGlyphs">high school</text><text x="361.5" y="548.8" font-size="9.4" font-weight="bold" fill="#333" text-anchor="middle" textLength="44.0" lengthAdjust="spacingAndGlyphs">some high</text><text x="361.5" y="561.2" font-size="9.4" font-weight="bold" fill="#333" text-anchor="middle" textLength="27.6" lengthAdjust="spacingAndGlyphs">school</text><text x="409.5" y="548.8" font-size="9.4" font-weight="bold" fill="#333" text-anchor="middle" textLength="23.5" lengthAdjust="spacingAndGlyphs">some</text><text x="409.5" y="561.2" font-size="9.4" font-weight="bold" fill="#333" text-anchor="middle" textLength="30.900000000000002" lengthAdjust="spacingAndGlyphs">college</text><text x="457.5" y="548.8" font-size="9.4" font-weight="bold" fill="#333" text-anchor="middle" textLength="47.599999999999994" lengthAdjust="spacingAndGlyphs">associate’s</text><text x="457.5" y="561.2" font-size="9.4" font-weight="bold" fill="#333" text-anchor="middle" textLength="30.1" lengthAdjust="spacingAndGlyphs">degree</text><text x="505.5" y="548.8" font-size="9.4" font-weight="bold" fill="#333" text-anchor="middle" textLength="45.0" lengthAdjust="spacingAndGlyphs">bachelor’s</text><text x="505.5" y="561.2" font-size="9.4" font-weight="bold" fill="#333" text-anchor="middle" textLength="30.1" lengthAdjust="spacingAndGlyphs">degree</text><text x="553.5" y="548.8" font-size="9.4" font-weight="bold" fill="#333" text-anchor="middle" textLength="37.8" lengthAdjust="spacingAndGlyphs">master’s</text><text x="553.5" y="561.2" font-size="9.4" font-weight="bold" fill="#333" text-anchor="middle" textLength="30.1" lengthAdjust="spacingAndGlyphs">degree</text><text x="739.5" y="103" font-size="15" font-weight="bold" fill="#333" text-anchor="middle" textLength="130" lengthAdjust="spacingAndGlyphs">Score Distribution</text><text x="739.7" y="120.3" font-size="13.8" fill="#555" text-anchor="middle" textLength="88" lengthAdjust="spacingAndGlyphs">by preparation</text><rect x="593.5" y="136.5" width="105" height="41.8" fill="#adb1b9" stroke="#6e6e6e" stroke-width="1"/><rect x="699" y="137" width="187" height="41" fill="#eff2f5"/><path d="M699,136.5H886M699,178.3H886" stroke="#8a8a8a" stroke-width="1"/><text x="645.4" y="157.8" font-size="14.2" fill="#333" text-anchor="middle" textLength="29.5" lengthAdjust="spacingAndGlyphs" stroke="#333" stroke-width="0.5">36%</text><text x="646.4" y="168.8" font-size="7.6" fill="#444" text-anchor="middle" textLength="97.5" lengthAdjust="spacingAndGlyphs">completed preparation course</text><text x="791.9" y="157.8" font-size="14.2" fill="#333" text-anchor="middle" textLength="29.5" lengthAdjust="spacingAndGlyphs" stroke="#333" stroke-width="0.5">64%</text><text x="792.8" y="168.8" font-size="7.6" fill="#444" text-anchor="middle" textLength="109.5" lengthAdjust="spacingAndGlyphs">not completed preparation course</text><line x1="618" y1="237.4" x2="882" y2="237.4" stroke="#e3e3e3" stroke-width="1"/><g stroke="#5a5a5a" stroke-width="0.9"><rect x="631.5" y="236.6" width="9.4" height="0.8" fill="#a9aeb6"/><rect x="631.5" y="237.4" width="9.4" height="0.8" fill="#eef1f4" stroke="#858585"/><path d="M631.1,238.2h10.2" stroke="#505050" stroke-width="1.5"/><rect x="643.5" y="236.6" width="9.4" height="0.8" fill="#a9aeb6"/><rect x="643.5" y="237.4" width="9.4" height="0.8" fill="#eef1f4" stroke="#858585"/><path d="M643.1,238.2h10.2" stroke="#505050" stroke-width="1.5"/><rect x="667.5" y="236.6" width="9.4" height="0.8" fill="#a9aeb6"/><rect x="667.5" y="237.4" width="9.4" height="0.8" fill="#eef1f4" stroke="#858585"/><path d="M667.1,238.2h10.2" stroke="#505050" stroke-width="1.5"/><rect x="679.5" y="235.9" width="9.4" height="1.5" fill="#a9aeb6"/><rect x="679.5" y="237.4" width="9.4" height="1.5" fill="#eef1f4" stroke="#858585"/><path d="M679.1,238.9h10.2" stroke="#505050" stroke-width="1.5"/><rect x="691.5" y="236.7" width="9.4" height="0.7" fill="#a9aeb6"/><rect x="691.5" y="237.4" width="9.4" height="4.0" fill="#eef1f4" stroke="#858585"/><rect x="692.5" y="238.4" width="7.4" height="2.0" fill="none" stroke="#ffffff" stroke-opacity="0.8" stroke-width="0.8"/><path d="M691.1,241.4h10.2" stroke="#505050" stroke-width="1.5"/><rect x="703.5" y="235.8" width="9.4" height="1.6" fill="#a9aeb6"/><rect x="703.5" y="237.4" width="9.4" height="4.3" fill="#eef1f4" stroke="#858585"/><rect x="704.5" y="238.4" width="7.4" height="2.3" fill="none" stroke="#ffffff" stroke-opacity="0.8" stroke-width="0.8"/><path d="M703.1,241.7h10.2" stroke="#505050" stroke-width="1.5"/><rect x="715.5" y="235.8" width="9.4" height="1.6" fill="#a9aeb6"/><rect x="715.5" y="237.4" width="9.4" height="9.0" fill="#eef1f4" stroke="#858585"/><rect x="716.5" y="238.4" width="7.4" height="7.0" fill="none" stroke="#ffffff" stroke-opacity="0.8" stroke-width="0.8"/><path d="M715.1,246.4h10.2" stroke="#505050" stroke-width="1.5"/><rect x="727.5" y="229.8" width="9.4" height="7.6" fill="#a9aeb6"/><rect x="727.5" y="237.4" width="9.4" height="15.0" fill="#eef1f4" stroke="#858585"/><rect x="728.5" y="238.4" width="7.4" height="13.0" fill="none" stroke="#ffffff" stroke-opacity="0.8" stroke-width="0.8"/><path d="M727.1,252.4h10.2" stroke="#505050" stroke-width="1.5"/><rect x="739.5" y="226.9" width="9.4" height="10.5" fill="#a9aeb6"/><rect x="739.5" y="237.4" width="9.4" height="25.0" fill="#eef1f4" stroke="#858585"/><rect x="740.5" y="238.4" width="7.4" height="23.0" fill="none" stroke="#ffffff" stroke-opacity="0.8" stroke-width="0.8"/><path d="M739.1,262.4h10.2" stroke="#505050" stroke-width="1.5"/><rect x="751.5" y="218.0" width="9.4" height="19.4" fill="#a9aeb6"/><rect x="751.5" y="237.4" width="9.4" height="33.2" fill="#eef1f4" stroke="#858585"/><rect x="752.5" y="238.4" width="7.4" height="31.2" fill="none" stroke="#ffffff" stroke-opacity="0.8" stroke-width="0.8"/><path d="M751.1,270.6h10.2" stroke="#505050" stroke-width="1.5"/><rect x="763.5" y="209.6" width="9.4" height="27.8" fill="#a9aeb6"/><rect x="763.5" y="237.4" width="9.4" height="35.8" fill="#eef1f4" stroke="#858585"/><rect x="764.5" y="238.4" width="7.4" height="33.8" fill="none" stroke="#ffffff" stroke-opacity="0.8" stroke-width="0.8"/><path d="M763.1,273.2h10.2" stroke="#505050" stroke-width="1.5"/><rect x="775.5" y="209.1" width="9.4" height="28.3" fill="#a9aeb6"/><rect x="775.5" y="237.4" width="9.4" height="47.2" fill="#eef1f4" stroke="#858585"/><rect x="776.5" y="238.4" width="7.4" height="45.2" fill="none" stroke="#ffffff" stroke-opacity="0.8" stroke-width="0.8"/><path d="M775.1,284.6h10.2" stroke="#505050" stroke-width="1.5"/><rect x="787.5" y="190.3" width="9.4" height="47.1" fill="#a9aeb6"/><rect x="787.5" y="237.4" width="9.4" height="45.1" fill="#eef1f4" stroke="#858585"/><rect x="788.5" y="238.4" width="7.4" height="43.1" fill="none" stroke="#ffffff" stroke-opacity="0.8" stroke-width="0.8"/><path d="M787.1,282.5h10.2" stroke="#505050" stroke-width="1.5"/><rect x="799.5" y="203.5" width="9.4" height="33.9" fill="#a9aeb6"/><rect x="799.5" y="237.4" width="9.4" height="38.3" fill="#eef1f4" stroke="#858585"/><rect x="800.5" y="238.4" width="7.4" height="36.3" fill="none" stroke="#ffffff" stroke-opacity="0.8" stroke-width="0.8"/><path d="M799.1,275.7h10.2" stroke="#505050" stroke-width="1.5"/><rect x="811.5" y="200.6" width="9.4" height="36.8" fill="#a9aeb6"/><rect x="811.5" y="237.4" width="9.4" height="30.2" fill="#eef1f4" stroke="#858585"/><rect x="812.5" y="238.4" width="7.4" height="28.2" fill="none" stroke="#ffffff" stroke-opacity="0.8" stroke-width="0.8"/><path d="M811.1,267.6h10.2" stroke="#505050" stroke-width="1.5"/><rect x="823.5" y="216.6" width="9.4" height="20.8" fill="#a9aeb6"/><rect x="823.5" y="237.4" width="9.4" height="27.0" fill="#eef1f4" stroke="#858585"/><rect x="824.5" y="238.4" width="7.4" height="25.0" fill="none" stroke="#ffffff" stroke-opacity="0.8" stroke-width="0.8"/><path d="M823.1,264.4h10.2" stroke="#505050" stroke-width="1.5"/><rect x="835.5" y="213.5" width="9.4" height="23.9" fill="#a9aeb6"/><rect x="835.5" y="237.4" width="9.4" height="15.8" fill="#eef1f4" stroke="#858585"/><rect x="836.5" y="238.4" width="7.4" height="13.8" fill="none" stroke="#ffffff" stroke-opacity="0.8" stroke-width="0.8"/><path d="M835.1,253.2h10.2" stroke="#505050" stroke-width="1.5"/><rect x="847.5" y="224.2" width="9.4" height="13.2" fill="#a9aeb6"/><rect x="847.5" y="237.4" width="9.4" height="10.0" fill="#eef1f4" stroke="#858585"/><rect x="848.5" y="238.4" width="7.4" height="8.0" fill="none" stroke="#ffffff" stroke-opacity="0.8" stroke-width="0.8"/><path d="M847.1,247.4h10.2" stroke="#505050" stroke-width="1.5"/><rect x="859.5" y="228.2" width="9.4" height="9.2" fill="#a9aeb6"/><rect x="859.5" y="237.4" width="9.4" height="3.8" fill="#eef1f4" stroke="#858585"/><rect x="860.5" y="238.4" width="7.4" height="1.8" fill="none" stroke="#ffffff" stroke-opacity="0.8" stroke-width="0.8"/><path d="M859.1,241.2h10.2" stroke="#505050" stroke-width="1.5"/><rect x="871.5" y="234.6" width="9.4" height="2.8" fill="#a9aeb6"/><rect x="871.5" y="237.4" width="9.4" height="2.1" fill="#eef1f4" stroke="#858585"/><rect x="872.5" y="238.4" width="7.4" height="0.1" fill="none" stroke="#ffffff" stroke-opacity="0.8" stroke-width="0.8"/><path d="M871.1,239.5h10.2" stroke="#505050" stroke-width="1.5"/></g><text x="631.0" y="301.8" font-size="10" fill="#666" text-anchor="middle">0</text><line x1="631.0" y1="287.3" x2="631.0" y2="290.3" stroke="#e4e4e4" stroke-width="0.8"/><text x="679.0" y="301.8" font-size="10" fill="#666" text-anchor="middle">20</text><line x1="679.0" y1="287.3" x2="679.0" y2="290.3" stroke="#e4e4e4" stroke-width="0.8"/><text x="727.0" y="301.8" font-size="10" fill="#666" text-anchor="middle">40</text><line x1="727.0" y1="287.3" x2="727.0" y2="290.3" stroke="#e4e4e4" stroke-width="0.8"/><text x="775.0" y="301.8" font-size="10" fill="#666" text-anchor="middle">60</text><line x1="775.0" y1="287.3" x2="775.0" y2="290.3" stroke="#e4e4e4" stroke-width="0.8"/><text x="823.0" y="301.8" font-size="10" fill="#666" text-anchor="middle">80</text><line x1="823.0" y1="287.3" x2="823.0" y2="290.3" stroke="#e4e4e4" stroke-width="0.8"/><text x="871.0" y="301.8" font-size="10" fill="#666" text-anchor="middle">100</text><line x1="871.0" y1="287.3" x2="871.0" y2="290.3" stroke="#e4e4e4" stroke-width="0.8"/><text transform="translate(610,247.5) rotate(-90)" font-size="11.8" font-weight="bold" fill="#333" text-anchor="middle" textLength="29.4" lengthAdjust="spacingAndGlyphs">Math</text><line x1="618" y1="364.6" x2="882" y2="364.6" stroke="#e3e3e3" stroke-width="1"/><g stroke="#5a5a5a" stroke-width="0.9"><rect x="667.5" y="364.1" width="9.4" height="0.5" fill="#a9aeb6"/><rect x="667.5" y="364.6" width="9.4" height="1.0" fill="#eef1f4" stroke="#858585"/><path d="M667.1,365.6h10.2" stroke="#505050" stroke-width="1.5"/><rect x="679.5" y="364.1" width="9.4" height="0.5" fill="#a9aeb6"/><rect x="679.5" y="364.6" width="9.4" height="2.0" fill="#eef1f4" stroke="#858585"/><rect x="680.5" y="365.6" width="7.4" height="0.0" fill="none" stroke="#ffffff" stroke-opacity="0.8" stroke-width="0.8"/><path d="M679.1,366.6h10.2" stroke="#505050" stroke-width="1.5"/><rect x="691.5" y="364.1" width="9.4" height="0.5" fill="#a9aeb6"/><rect x="691.5" y="364.6" width="9.4" height="2.5" fill="#eef1f4" stroke="#858585"/><rect x="692.5" y="365.6" width="7.4" height="0.5" fill="none" stroke="#ffffff" stroke-opacity="0.8" stroke-width="0.8"/><path d="M691.1,367.1h10.2" stroke="#505050" stroke-width="1.5"/><rect x="703.5" y="364.1" width="9.4" height="0.5" fill="#a9aeb6"/><rect x="703.5" y="364.6" width="9.4" height="4.0" fill="#eef1f4" stroke="#858585"/><rect x="704.5" y="365.6" width="7.4" height="2.0" fill="none" stroke="#ffffff" stroke-opacity="0.8" stroke-width="0.8"/><path d="M703.1,368.6h10.2" stroke="#505050" stroke-width="1.5"/><rect x="715.5" y="363.1" width="9.4" height="1.5" fill="#a9aeb6"/><rect x="715.5" y="364.6" width="9.4" height="6.0" fill="#eef1f4" stroke="#858585"/><rect x="716.5" y="365.6" width="7.4" height="4.0" fill="none" stroke="#ffffff" stroke-opacity="0.8" stroke-width="0.8"/><path d="M715.1,370.6h10.2" stroke="#505050" stroke-width="1.5"/><rect x="727.5" y="356.9" width="9.4" height="7.7" fill="#a9aeb6"/><rect x="727.5" y="364.6" width="9.4" height="10.0" fill="#eef1f4" stroke="#858585"/><rect x="728.5" y="365.6" width="7.4" height="8.0" fill="none" stroke="#ffffff" stroke-opacity="0.8" stroke-width="0.8"/><path d="M727.1,374.6h10.2" stroke="#505050" stroke-width="1.5"/><rect x="739.5" y="358.1" width="9.4" height="6.5" fill="#a9aeb6"/><rect x="739.5" y="364.6" width="9.4" height="15.4" fill="#eef1f4" stroke="#858585"/><rect x="740.5" y="365.6" width="7.4" height="13.4" fill="none" stroke="#ffffff" stroke-opacity="0.8" stroke-width="0.8"/><path d="M739.1,380.0h10.2" stroke="#505050" stroke-width="1.5"/><rect x="751.5" y="346.3" width="9.4" height="18.3" fill="#a9aeb6"/><rect x="751.5" y="364.6" width="9.4" height="25.6" fill="#eef1f4" stroke="#858585"/><rect x="752.5" y="365.6" width="7.4" height="23.6" fill="none" stroke="#ffffff" stroke-opacity="0.8" stroke-width="0.8"/><path d="M751.1,390.2h10.2" stroke="#505050" stroke-width="1.5"/><rect x="763.5" y="346.3" width="9.4" height="18.3" fill="#a9aeb6"/><rect x="763.5" y="364.6" width="9.4" height="37.9" fill="#eef1f4" stroke="#858585"/><rect x="764.5" y="365.6" width="7.4" height="35.9" fill="none" stroke="#ffffff" stroke-opacity="0.8" stroke-width="0.8"/><path d="M763.1,402.5h10.2" stroke="#505050" stroke-width="1.5"/><rect x="775.5" y="336.2" width="9.4" height="28.4" fill="#a9aeb6"/><rect x="775.5" y="364.6" width="9.4" height="44.8" fill="#eef1f4" stroke="#858585"/><rect x="776.5" y="365.6" width="7.4" height="42.8" fill="none" stroke="#ffffff" stroke-opacity="0.8" stroke-width="0.8"/><path d="M775.1,409.4h10.2" stroke="#505050" stroke-width="1.5"/><rect x="787.5" y="332.5" width="9.4" height="32.1" fill="#a9aeb6"/><rect x="787.5" y="364.6" width="9.4" height="40.0" fill="#eef1f4" stroke="#858585"/><rect x="788.5" y="365.6" width="7.4" height="38.0" fill="none" stroke="#ffffff" stroke-opacity="0.8" stroke-width="0.8"/><path d="M787.1,404.6h10.2" stroke="#505050" stroke-width="1.5"/><rect x="799.5" y="320.4" width="9.4" height="44.2" fill="#a9aeb6"/><rect x="799.5" y="364.6" width="9.4" height="47.5" fill="#eef1f4" stroke="#858585"/><rect x="800.5" y="365.6" width="7.4" height="45.5" fill="none" stroke="#ffffff" stroke-opacity="0.8" stroke-width="0.8"/><path d="M799.1,412.1h10.2" stroke="#505050" stroke-width="1.5"/><rect x="811.5" y="316.5" width="9.4" height="48.1" fill="#a9aeb6"/><rect x="811.5" y="364.6" width="9.4" height="34.1" fill="#eef1f4" stroke="#858585"/><rect x="812.5" y="365.6" width="7.4" height="32.1" fill="none" stroke="#ffffff" stroke-opacity="0.8" stroke-width="0.8"/><path d="M811.1,398.7h10.2" stroke="#505050" stroke-width="1.5"/><rect x="823.5" y="319.4" width="9.4" height="45.2" fill="#a9aeb6"/><rect x="823.5" y="364.6" width="9.4" height="24.2" fill="#eef1f4" stroke="#858585"/><rect x="824.5" y="365.6" width="7.4" height="22.2" fill="none" stroke="#ffffff" stroke-opacity="0.8" stroke-width="0.8"/><path d="M823.1,388.8h10.2" stroke="#505050" stroke-width="1.5"/><rect x="835.5" y="332.5" width="9.4" height="32.1" fill="#a9aeb6"/><rect x="835.5" y="364.6" width="9.4" height="18.3" fill="#eef1f4" stroke="#858585"/><rect x="836.5" y="365.6" width="7.4" height="16.3" fill="none" stroke="#ffffff" stroke-opacity="0.8" stroke-width="0.8"/><path d="M835.1,382.9h10.2" stroke="#505050" stroke-width="1.5"/><rect x="847.5" y="346.7" width="9.4" height="17.9" fill="#a9aeb6"/><rect x="847.5" y="364.6" width="9.4" height="11.6" fill="#eef1f4" stroke="#858585"/><rect x="848.5" y="365.6" width="7.4" height="9.6" fill="none" stroke="#ffffff" stroke-opacity="0.8" stroke-width="0.8"/><path d="M847.1,376.2h10.2" stroke="#505050" stroke-width="1.5"/><rect x="859.5" y="353.5" width="9.4" height="11.1" fill="#a9aeb6"/><rect x="859.5" y="364.6" width="9.4" height="3.9" fill="#eef1f4" stroke="#858585"/><rect x="860.5" y="365.6" width="7.4" height="1.9" fill="none" stroke="#ffffff" stroke-opacity="0.8" stroke-width="0.8"/><path d="M859.1,368.5h10.2" stroke="#505050" stroke-width="1.5"/><rect x="871.5" y="354.2" width="9.4" height="10.4" fill="#a9aeb6"/><rect x="871.5" y="364.6" width="9.4" height="3.1" fill="#eef1f4" stroke="#858585"/><rect x="872.5" y="365.6" width="7.4" height="1.1" fill="none" stroke="#ffffff" stroke-opacity="0.8" stroke-width="0.8"/><path d="M871.1,367.7h10.2" stroke="#505050" stroke-width="1.5"/></g><text x="631.0" y="429.5" font-size="10" fill="#666" text-anchor="middle">0</text><line x1="631.0" y1="415.0" x2="631.0" y2="418.0" stroke="#e4e4e4" stroke-width="0.8"/><text x="679.0" y="429.5" font-size="10" fill="#666" text-anchor="middle">20</text><line x1="679.0" y1="415.0" x2="679.0" y2="418.0" stroke="#e4e4e4" stroke-width="0.8"/><text x="727.0" y="429.5" font-size="10" fill="#666" text-anchor="middle">40</text><line x1="727.0" y1="415.0" x2="727.0" y2="418.0" stroke="#e4e4e4" stroke-width="0.8"/><text x="775.0" y="429.5" font-size="10" fill="#666" text-anchor="middle">60</text><line x1="775.0" y1="415.0" x2="775.0" y2="418.0" stroke="#e4e4e4" stroke-width="0.8"/><text x="823.0" y="429.5" font-size="10" fill="#666" text-anchor="middle">80</text><line x1="823.0" y1="415.0" x2="823.0" y2="418.0" stroke="#e4e4e4" stroke-width="0.8"/><text x="871.0" y="429.5" font-size="10" fill="#666" text-anchor="middle">100</text><line x1="871.0" y1="415.0" x2="871.0" y2="418.0" stroke="#e4e4e4" stroke-width="0.8"/><text transform="translate(610,374.70000000000005) rotate(-90)" font-size="11.8" font-weight="bold" fill="#333" text-anchor="middle" textLength="45.6" lengthAdjust="spacingAndGlyphs">Reading</text><line x1="618" y1="491.7" x2="882" y2="491.7" stroke="#e3e3e3" stroke-width="1"/><g stroke="#5a5a5a" stroke-width="0.9"><rect x="655.5" y="490.9" width="9.4" height="0.8" fill="#a9aeb6"/><rect x="655.5" y="491.7" width="9.4" height="0.8" fill="#eef1f4" stroke="#858585"/><path d="M655.1,492.5h10.2" stroke="#505050" stroke-width="1.5"/><rect x="667.5" y="490.9" width="9.4" height="0.8" fill="#a9aeb6"/><rect x="667.5" y="491.7" width="9.4" height="0.8" fill="#eef1f4" stroke="#858585"/><path d="M667.1,492.5h10.2" stroke="#505050" stroke-width="1.5"/><rect x="679.5" y="490.9" width="9.4" height="0.8" fill="#a9aeb6"/><rect x="679.5" y="491.7" width="9.4" height="0.8" fill="#eef1f4" stroke="#858585"/><path d="M679.1,492.5h10.2" stroke="#505050" stroke-width="1.5"/><rect x="691.5" y="491.2" width="9.4" height="0.5" fill="#a9aeb6"/><rect x="691.5" y="491.7" width="9.4" height="2.0" fill="#eef1f4" stroke="#858585"/><rect x="692.5" y="492.7" width="7.4" height="0.0" fill="none" stroke="#ffffff" stroke-opacity="0.8" stroke-width="0.8"/><path d="M691.1,493.7h10.2" stroke="#505050" stroke-width="1.5"/><rect x="703.5" y="491.2" width="9.4" height="0.5" fill="#a9aeb6"/><rect x="703.5" y="491.7" width="9.4" height="4.0" fill="#eef1f4" stroke="#858585"/><rect x="704.5" y="492.7" width="7.4" height="2.0" fill="none" stroke="#ffffff" stroke-opacity="0.8" stroke-width="0.8"/><path d="M703.1,495.7h10.2" stroke="#505050" stroke-width="1.5"/><rect x="715.5" y="490.2" width="9.4" height="1.5" fill="#a9aeb6"/><rect x="715.5" y="491.7" width="9.4" height="7.0" fill="#eef1f4" stroke="#858585"/><rect x="716.5" y="492.7" width="7.4" height="5.0" fill="none" stroke="#ffffff" stroke-opacity="0.8" stroke-width="0.8"/><path d="M715.1,498.7h10.2" stroke="#505050" stroke-width="1.5"/><rect x="727.5" y="486.3" width="9.4" height="5.4" fill="#a9aeb6"/><rect x="727.5" y="491.7" width="9.4" height="16.0" fill="#eef1f4" stroke="#858585"/><rect x="728.5" y="492.7" width="7.4" height="14.0" fill="none" stroke="#ffffff" stroke-opacity="0.8" stroke-width="0.8"/><path d="M727.1,507.7h10.2" stroke="#505050" stroke-width="1.5"/><rect x="739.5" y="486.3" width="9.4" height="5.4" fill="#a9aeb6"/><rect x="739.5" y="491.7" width="9.4" height="18.9" fill="#eef1f4" stroke="#858585"/><rect x="740.5" y="492.7" width="7.4" height="16.9" fill="none" stroke="#ffffff" stroke-opacity="0.8" stroke-width="0.8"/><path d="M739.1,510.6h10.2" stroke="#505050" stroke-width="1.5"/><rect x="751.5" y="477.3" width="9.4" height="14.4" fill="#a9aeb6"/><rect x="751.5" y="491.7" width="9.4" height="35.6" fill="#eef1f4" stroke="#858585"/><rect x="752.5" y="492.7" width="7.4" height="33.6" fill="none" stroke="#ffffff" stroke-opacity="0.8" stroke-width="0.8"/><path d="M751.1,527.3h10.2" stroke="#505050" stroke-width="1.5"/><rect x="763.5" y="478.7" width="9.4" height="13.0" fill="#a9aeb6"/><rect x="763.5" y="491.7" width="9.4" height="30.8" fill="#eef1f4" stroke="#858585"/><rect x="764.5" y="492.7" width="7.4" height="28.8" fill="none" stroke="#ffffff" stroke-opacity="0.8" stroke-width="0.8"/><path d="M763.1,522.5h10.2" stroke="#505050" stroke-width="1.5"/><rect x="775.5" y="469.6" width="9.4" height="22.1" fill="#a9aeb6"/><rect x="775.5" y="491.7" width="9.4" height="38.1" fill="#eef1f4" stroke="#858585"/><rect x="776.5" y="492.7" width="7.4" height="36.1" fill="none" stroke="#ffffff" stroke-opacity="0.8" stroke-width="0.8"/><path d="M775.1,529.8h10.2" stroke="#505050" stroke-width="1.5"/><rect x="787.5" y="458.5" width="9.4" height="33.2" fill="#a9aeb6"/><rect x="787.5" y="491.7" width="9.4" height="41.4" fill="#eef1f4" stroke="#858585"/><rect x="788.5" y="492.7" width="7.4" height="39.4" fill="none" stroke="#ffffff" stroke-opacity="0.8" stroke-width="0.8"/><path d="M787.1,533.1h10.2" stroke="#505050" stroke-width="1.5"/><rect x="799.5" y="455.4" width="9.4" height="36.3" fill="#a9aeb6"/><rect x="799.5" y="491.7" width="9.4" height="46.6" fill="#eef1f4" stroke="#858585"/><rect x="800.5" y="492.7" width="7.4" height="44.6" fill="none" stroke="#ffffff" stroke-opacity="0.8" stroke-width="0.8"/><path d="M799.1,538.3h10.2" stroke="#505050" stroke-width="1.5"/><rect x="811.5" y="444.0" width="9.4" height="47.7" fill="#a9aeb6"/><rect x="811.5" y="491.7" width="9.4" height="27.0" fill="#eef1f4" stroke="#858585"/><rect x="812.5" y="492.7" width="7.4" height="25.0" fill="none" stroke="#ffffff" stroke-opacity="0.8" stroke-width="0.8"/><path d="M811.1,518.7h10.2" stroke="#505050" stroke-width="1.5"/><rect x="823.5" y="454.0" width="9.4" height="37.7" fill="#a9aeb6"/><rect x="823.5" y="491.7" width="9.4" height="25.6" fill="#eef1f4" stroke="#858585"/><rect x="824.5" y="492.7" width="7.4" height="23.6" fill="none" stroke="#ffffff" stroke-opacity="0.8" stroke-width="0.8"/><path d="M823.1,517.3h10.2" stroke="#505050" stroke-width="1.5"/><rect x="835.5" y="463.8" width="9.4" height="27.9" fill="#a9aeb6"/><rect x="835.5" y="491.7" width="9.4" height="11.2" fill="#eef1f4" stroke="#858585"/><rect x="836.5" y="492.7" width="7.4" height="9.2" fill="none" stroke="#ffffff" stroke-opacity="0.8" stroke-width="0.8"/><path d="M835.1,502.9h10.2" stroke="#505050" stroke-width="1.5"/><rect x="847.5" y="469.6" width="9.4" height="22.1" fill="#a9aeb6"/><rect x="847.5" y="491.7" width="9.4" height="8.3" fill="#eef1f4" stroke="#858585"/><rect x="848.5" y="492.7" width="7.4" height="6.3" fill="none" stroke="#ffffff" stroke-opacity="0.8" stroke-width="0.8"/><path d="M847.1,500.0h10.2" stroke="#505050" stroke-width="1.5"/><rect x="859.5" y="481.7" width="9.4" height="10.0" fill="#a9aeb6"/><rect x="859.5" y="491.7" width="9.4" height="3.9" fill="#eef1f4" stroke="#858585"/><rect x="860.5" y="492.7" width="7.4" height="1.9" fill="none" stroke="#ffffff" stroke-opacity="0.8" stroke-width="0.8"/><path d="M859.1,495.6h10.2" stroke="#505050" stroke-width="1.5"/><rect x="871.5" y="484.6" width="9.4" height="7.1" fill="#a9aeb6"/><rect x="871.5" y="491.7" width="9.4" height="2.3" fill="#eef1f4" stroke="#858585"/><rect x="872.5" y="492.7" width="7.4" height="0.3" fill="none" stroke="#ffffff" stroke-opacity="0.8" stroke-width="0.8"/><path d="M871.1,494.0h10.2" stroke="#505050" stroke-width="1.5"/></g><text x="631.0" y="555.8" font-size="10" fill="#666" text-anchor="middle">0</text><line x1="631.0" y1="541.3" x2="631.0" y2="544.3" stroke="#e4e4e4" stroke-width="0.8"/><text x="679.0" y="555.8" font-size="10" fill="#666" text-anchor="middle">20</text><line x1="679.0" y1="541.3" x2="679.0" y2="544.3" stroke="#e4e4e4" stroke-width="0.8"/><text x="727.0" y="555.8" font-size="10" fill="#666" text-anchor="middle">40</text><line x1="727.0" y1="541.3" x2="727.0" y2="544.3" stroke="#e4e4e4" stroke-width="0.8"/><text x="775.0" y="555.8" font-size="10" fill="#666" text-anchor="middle">60</text><line x1="775.0" y1="541.3" x2="775.0" y2="544.3" stroke="#e4e4e4" stroke-width="0.8"/><text x="823.0" y="555.8" font-size="10" fill="#666" text-anchor="middle">80</text><line x1="823.0" y1="541.3" x2="823.0" y2="544.3" stroke="#e4e4e4" stroke-width="0.8"/><text x="871.0" y="555.8" font-size="10" fill="#666" text-anchor="middle">100</text><line x1="871.0" y1="541.3" x2="871.0" y2="544.3" stroke="#e4e4e4" stroke-width="0.8"/><text transform="translate(610,501.8) rotate(-90)" font-size="11.8" font-weight="bold" fill="#333" text-anchor="middle" textLength="44.5" lengthAdjust="spacingAndGlyphs">Writing</text><text x="447" y="587.3" font-size="10" fill="#555" textLength="444" lengthAdjust="spacingAndGlyphs">Photo by <tspan text-decoration="underline">Thomas Kolnowski</tspan> on <tspan text-decoration="underline">Unsplash</tspan> | Data Source: Kaggle.com | Design by: Galyna Skamrova</text></svg></body></html>
